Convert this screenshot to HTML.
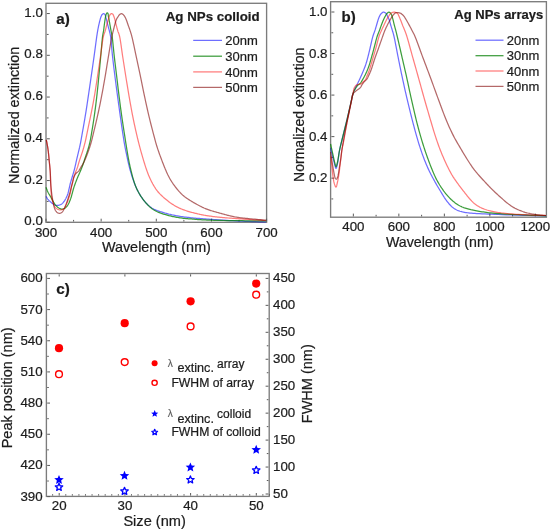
<!DOCTYPE html>
<html><head><meta charset="utf-8"><title>Ag NPs extinction</title>
<style>
html,body{margin:0;padding:0;background:#fff;}
body{width:550px;height:530px;overflow:hidden;}
svg{display:block;will-change:transform;filter:blur(0.3px);}
svg text{font-family:"Liberation Sans", sans-serif;fill:#1c1c1c;stroke:#1c1c1c;stroke-width:0.22px;}
</style></head>
<body>
<svg width="550" height="530" viewBox="0 0 550 530">
<rect width="550" height="530" fill="#fff"/>
<rect x="46.00" y="3.30" width="220.60" height="219.00" fill="none" stroke="#7c7c7c" stroke-width="1.35"/>
<line x1="46.00" y1="221.50" x2="46.00" y2="218.70" stroke="#5a5a5a" stroke-width="1.00"/>
<text x="46.00" y="236.60" font-size="13.30" text-anchor="middle" font-weight="normal">300</text>
<line x1="101.15" y1="221.50" x2="101.15" y2="218.70" stroke="#5a5a5a" stroke-width="1.00"/>
<text x="101.15" y="236.60" font-size="13.30" text-anchor="middle" font-weight="normal">400</text>
<line x1="156.30" y1="221.50" x2="156.30" y2="218.70" stroke="#5a5a5a" stroke-width="1.00"/>
<text x="156.30" y="236.60" font-size="13.30" text-anchor="middle" font-weight="normal">500</text>
<line x1="211.45" y1="221.50" x2="211.45" y2="218.70" stroke="#5a5a5a" stroke-width="1.00"/>
<text x="211.45" y="236.60" font-size="13.30" text-anchor="middle" font-weight="normal">600</text>
<line x1="266.60" y1="221.50" x2="266.60" y2="218.70" stroke="#5a5a5a" stroke-width="1.00"/>
<text x="266.60" y="236.60" font-size="13.30" text-anchor="middle" font-weight="normal">700</text>
<line x1="73.58" y1="221.50" x2="73.58" y2="219.90" stroke="#5a5a5a" stroke-width="1.00"/>
<line x1="128.72" y1="221.50" x2="128.72" y2="219.90" stroke="#5a5a5a" stroke-width="1.00"/>
<line x1="183.88" y1="221.50" x2="183.88" y2="219.90" stroke="#5a5a5a" stroke-width="1.00"/>
<line x1="239.03" y1="221.50" x2="239.03" y2="219.90" stroke="#5a5a5a" stroke-width="1.00"/>
<line x1="46.80" y1="222.30" x2="49.80" y2="222.30" stroke="#5a5a5a" stroke-width="1.00"/>
<text x="42.80" y="225.30" font-size="13.30" text-anchor="end" font-weight="normal">0.0</text>
<line x1="46.80" y1="201.43" x2="48.60" y2="201.43" stroke="#5a5a5a" stroke-width="1.00"/>
<line x1="46.80" y1="180.55" x2="49.80" y2="180.55" stroke="#5a5a5a" stroke-width="1.00"/>
<text x="42.80" y="183.55" font-size="13.30" text-anchor="end" font-weight="normal">0.2</text>
<line x1="46.80" y1="159.68" x2="48.60" y2="159.68" stroke="#5a5a5a" stroke-width="1.00"/>
<line x1="46.80" y1="138.80" x2="49.80" y2="138.80" stroke="#5a5a5a" stroke-width="1.00"/>
<text x="42.80" y="141.80" font-size="13.30" text-anchor="end" font-weight="normal">0.4</text>
<line x1="46.80" y1="117.93" x2="48.60" y2="117.93" stroke="#5a5a5a" stroke-width="1.00"/>
<line x1="46.80" y1="97.05" x2="49.80" y2="97.05" stroke="#5a5a5a" stroke-width="1.00"/>
<text x="42.80" y="100.05" font-size="13.30" text-anchor="end" font-weight="normal">0.6</text>
<line x1="46.80" y1="76.18" x2="48.60" y2="76.18" stroke="#5a5a5a" stroke-width="1.00"/>
<line x1="46.80" y1="55.30" x2="49.80" y2="55.30" stroke="#5a5a5a" stroke-width="1.00"/>
<text x="42.80" y="58.30" font-size="13.30" text-anchor="end" font-weight="normal">0.8</text>
<line x1="46.80" y1="34.43" x2="48.60" y2="34.43" stroke="#5a5a5a" stroke-width="1.00"/>
<line x1="46.80" y1="13.55" x2="49.80" y2="13.55" stroke="#5a5a5a" stroke-width="1.00"/>
<text x="42.80" y="16.55" font-size="13.30" text-anchor="end" font-weight="normal">1.0</text>
<text x="156.40" y="252.20" font-size="14.40" text-anchor="middle" font-weight="normal">Wavelength (nm)</text>
<text transform="translate(18.6,183.9) rotate(-90)" font-size="14.35">Normalized extinction</text>
<text x="56.30" y="23.60" font-size="15.20" text-anchor="start" font-weight="bold">a)</text>
<text x="259.60" y="21.20" font-size="13.30" text-anchor="end" font-weight="bold">Ag NPs colloid</text>
<line x1="193.20" y1="40.40" x2="222.00" y2="40.40" stroke="#6e6eff" stroke-width="1.25"/>
<line x1="193.20" y1="56.20" x2="222.00" y2="56.20" stroke="#3c9c3c" stroke-width="1.25"/>
<line x1="193.20" y1="71.90" x2="222.00" y2="71.90" stroke="#ff7c7c" stroke-width="1.25"/>
<line x1="193.20" y1="87.40" x2="222.00" y2="87.40" stroke="#b46868" stroke-width="1.25"/>
<text x="225.20" y="45.00" font-size="13.00" text-anchor="start" font-weight="normal">20nm</text>
<text x="225.20" y="60.80" font-size="13.00" text-anchor="start" font-weight="normal">30nm</text>
<text x="225.20" y="76.50" font-size="13.00" text-anchor="start" font-weight="normal">40nm</text>
<text x="225.20" y="92.00" font-size="13.00" text-anchor="start" font-weight="normal">50nm</text>
<g fill="none" stroke-width="1.25" stroke-linejoin="round">
<path d="M46.00,196.30 L46.22,196.65 L46.43,197.00 L46.64,197.36 L46.85,197.71 L47.07,198.06 L47.30,198.41 L47.54,198.76 L47.80,199.10 L48.12,199.48 L48.46,199.85 L48.81,200.23 L49.18,200.60 L49.56,200.96 L49.95,201.32 L50.33,201.67 L50.70,202.00 L51.04,202.30 L51.39,202.61 L51.73,202.90 L52.08,203.19 L52.43,203.46 L52.78,203.73 L53.14,203.97 L53.50,204.20 L53.84,204.40 L54.18,204.59 L54.53,204.78 L54.88,204.95 L55.23,205.10 L55.58,205.23 L55.94,205.33 L56.30,205.40 L56.66,205.44 L57.02,205.45 L57.38,205.44 L57.75,205.41 L58.12,205.35 L58.48,205.28 L58.85,205.20 L59.20,205.10 L59.56,204.99 L59.92,204.86 L60.28,204.72 L60.64,204.55 L60.99,204.37 L61.33,204.17 L61.67,203.95 L62.00,203.70 L62.38,203.37 L62.75,203.01 L63.11,202.62 L63.46,202.19 L63.81,201.75 L64.14,201.28 L64.47,200.80 L64.80,200.30 L65.19,199.67 L65.58,199.00 L65.96,198.29 L66.33,197.55 L66.68,196.81 L67.02,196.06 L67.32,195.32 L67.60,194.60 L67.82,193.96 L68.01,193.33 L68.17,192.70 L68.32,192.07 L68.47,191.44 L68.60,190.80 L68.75,190.16 L68.90,189.50 L69.07,188.78 L69.24,188.04 L69.41,187.30 L69.58,186.54 L69.75,185.79 L69.92,185.03 L70.11,184.26 L70.30,183.50 L70.52,182.69 L70.75,181.88 L70.98,181.06 L71.23,180.24 L71.47,179.42 L71.72,178.60 L71.96,177.79 L72.20,177.00 L72.42,176.27 L72.64,175.55 L72.86,174.83 L73.07,174.13 L73.29,173.42 L73.50,172.72 L73.70,172.01 L73.90,171.30 L74.09,170.60 L74.27,169.91 L74.45,169.22 L74.62,168.53 L74.79,167.83 L74.96,167.13 L75.13,166.42 L75.30,165.70 L75.48,164.91 L75.67,164.11 L75.84,163.30 L76.02,162.48 L76.20,161.65 L76.39,160.83 L76.57,160.00 L76.76,159.18 L76.95,158.34 L77.15,157.50 L77.36,156.66 L77.56,155.82 L77.76,154.98 L77.97,154.14 L78.17,153.31 L78.36,152.48 L78.55,151.71 L78.73,150.93 L78.92,150.17 L79.10,149.41 L79.28,148.65 L79.45,147.89 L79.63,147.13 L79.79,146.38 L79.95,145.65 L80.10,144.94 L80.25,144.22 L80.39,143.51 L80.53,142.79 L80.67,142.07 L80.81,141.34 L80.95,140.60 L81.10,139.82 L81.24,139.04 L81.38,138.25 L81.52,137.46 L81.66,136.65 L81.80,135.83 L81.95,134.99 L82.10,134.12 L82.29,133.05 L82.49,131.96 L82.69,130.85 L82.90,129.71 L83.10,128.54 L83.32,127.35 L83.53,126.13 L83.75,124.88 L84.02,123.32 L84.30,121.71 L84.58,120.06 L84.86,118.37 L85.15,116.65 L85.44,114.91 L85.73,113.15 L86.02,111.37 L86.33,109.39 L86.64,107.38 L86.95,105.34 L87.26,103.27 L87.57,101.18 L87.88,99.07 L88.20,96.95 L88.51,94.81 L88.85,92.51 L89.20,90.18 L89.55,87.83 L89.89,85.46 L90.24,83.07 L90.59,80.68 L90.94,78.28 L91.29,75.88 L91.64,73.43 L92.00,70.96 L92.35,68.48 L92.71,66.00 L93.06,63.51 L93.41,61.03 L93.76,58.54 L94.11,56.06 L94.46,53.49 L94.82,50.81 L95.19,48.08 L95.55,45.37 L95.89,42.76 L96.22,40.31 L96.53,38.10 L96.80,36.20 L96.93,35.33 L97.05,34.56 L97.16,33.85 L97.26,33.18 L97.36,32.55 L97.47,31.92 L97.58,31.28 L97.70,30.60 L97.83,29.90 L97.95,29.20 L98.09,28.50 L98.22,27.80 L98.36,27.10 L98.50,26.40 L98.65,25.70 L98.80,25.00 L98.96,24.27 L99.13,23.53 L99.31,22.77 L99.49,22.02 L99.67,21.29 L99.85,20.58 L100.03,19.91 L100.20,19.30 L100.31,18.90 L100.42,18.51 L100.53,18.15 L100.63,17.80 L100.74,17.46 L100.85,17.14 L100.97,16.82 L101.10,16.50 L101.22,16.22 L101.34,15.94 L101.46,15.67 L101.59,15.40 L101.73,15.15 L101.88,14.91 L102.03,14.69 L102.20,14.50 L102.35,14.35 L102.52,14.21 L102.70,14.07 L102.88,13.95 L103.06,13.85 L103.24,13.77 L103.42,13.72 L103.60,13.70 L103.77,13.71 L103.94,13.75 L104.12,13.82 L104.29,13.90 L104.46,14.01 L104.62,14.13 L104.77,14.26 L104.90,14.40 L105.03,14.59 L105.14,14.82 L105.23,15.07 L105.31,15.34 L105.38,15.63 L105.45,15.92 L105.52,16.21 L105.60,16.50 L105.70,16.82 L105.80,17.15 L105.89,17.48 L105.99,17.81 L106.09,18.16 L106.19,18.52 L106.29,18.90 L106.40,19.30 L106.56,19.92 L106.73,20.58 L106.90,21.29 L107.07,22.03 L107.25,22.78 L107.44,23.53 L107.62,24.28 L107.80,25.00 L107.98,25.70 L108.17,26.41 L108.37,27.11 L108.56,27.81 L108.75,28.51 L108.94,29.21 L109.12,29.90 L109.30,30.60 L109.46,31.25 L109.62,31.87 L109.77,32.48 L109.92,33.09 L110.07,33.72 L110.21,34.41 L110.36,35.16 L110.50,36.00 L110.76,37.89 L111.01,40.11 L111.25,42.57 L111.49,45.21 L111.73,47.94 L111.97,50.70 L112.22,53.41 L112.49,56.00 L112.77,58.50 L113.06,61.00 L113.35,63.50 L113.65,66.00 L113.96,68.50 L114.27,71.00 L114.59,73.50 L114.90,76.00 L115.22,78.51 L115.55,81.02 L115.87,83.54 L116.21,86.05 L116.54,88.56 L116.87,91.08 L117.21,93.60 L117.55,96.12 L117.89,98.68 L118.24,101.26 L118.59,103.84 L118.95,106.42 L119.30,109.00 L119.65,111.56 L120.01,114.09 L120.36,116.59 L120.69,118.96 L121.03,121.35 L121.37,123.74 L121.71,126.11 L122.05,128.42 L122.38,130.67 L122.70,132.81 L123.01,134.84 L123.23,136.28 L123.45,137.67 L123.66,139.02 L123.87,140.32 L124.07,141.58 L124.28,142.80 L124.48,143.97 L124.68,145.11 L124.84,145.97 L124.99,146.78 L125.14,147.57 L125.30,148.34 L125.45,149.09 L125.60,149.83 L125.75,150.57 L125.90,151.32 L126.05,152.04 L126.20,152.76 L126.34,153.46 L126.49,154.17 L126.64,154.87 L126.78,155.57 L126.93,156.27 L127.08,156.98 L127.23,157.68 L127.38,158.39 L127.52,159.10 L127.67,159.80 L127.82,160.51 L127.97,161.21 L128.13,161.92 L128.29,162.63 L128.45,163.34 L128.62,164.05 L128.79,164.76 L128.96,165.47 L129.13,166.18 L129.31,166.89 L129.49,167.60 L129.68,168.31 L129.87,169.03 L130.07,169.75 L130.27,170.47 L130.47,171.19 L130.68,171.91 L130.89,172.64 L131.10,173.36 L131.32,174.08 L131.55,174.81 L131.78,175.54 L132.01,176.27 L132.24,177.00 L132.48,177.74 L132.73,178.47 L132.98,179.19 L133.23,179.92 L133.48,180.64 L133.74,181.37 L133.99,182.09 L134.26,182.81 L134.52,183.52 L134.80,184.24 L135.08,184.95 L135.37,185.66 L135.67,186.38 L135.98,187.09 L136.29,187.80 L136.61,188.51 L136.94,189.22 L137.28,189.92 L137.63,190.62 L137.99,191.32 L138.38,192.04 L138.77,192.75 L139.17,193.47 L139.59,194.18 L140.01,194.88 L140.45,195.59 L140.90,196.29 L141.36,196.98 L141.85,197.69 L142.35,198.40 L142.86,199.11 L143.39,199.81 L143.92,200.50 L144.47,201.19 L145.03,201.85 L145.61,202.50 L146.19,203.13 L146.78,203.75 L147.39,204.37 L148.01,204.97 L148.64,205.55 L149.28,206.11 L149.92,206.64 L150.56,207.13 L151.15,207.54 L151.74,207.93 L152.34,208.29 L152.95,208.63 L153.56,208.96 L154.18,209.27 L154.80,209.56 L155.43,209.85 L156.07,210.13 L156.72,210.39 L157.38,210.64 L158.04,210.87 L158.71,211.09 L159.38,211.31 L160.05,211.53 L160.73,211.75 L161.42,211.97 L162.12,212.19 L162.82,212.41 L163.52,212.62 L164.23,212.83 L164.95,213.04 L165.67,213.24 L166.40,213.44 L167.17,213.65 L167.94,213.85 L168.72,214.06 L169.50,214.25 L170.30,214.45 L171.10,214.64 L171.93,214.83 L172.77,215.01 L173.74,215.22 L174.73,215.42 L175.74,215.61 L176.77,215.80 L177.81,215.98 L178.87,216.16 L179.94,216.34 L181.02,216.50 L182.25,216.68 L183.50,216.86 L184.77,217.02 L186.06,217.18 L187.36,217.33 L188.67,217.48 L189.98,217.62 L191.28,217.76 L192.61,217.89 L193.94,218.02 L195.26,218.14 L196.59,218.26 L197.94,218.37 L199.30,218.48 L200.69,218.59 L202.10,218.70 L203.72,218.83 L205.34,218.95 L206.98,219.07 L208.65,219.19 L210.36,219.31 L212.12,219.43 L213.94,219.55 L215.83,219.68 L218.39,219.85 L221.07,220.02 L223.87,220.20 L226.74,220.38 L229.67,220.56 L232.65,220.73 L235.64,220.89 L238.63,221.04 L241.93,221.19 L245.30,221.32 L248.71,221.44 L252.16,221.55 L255.63,221.66 L259.10,221.77 L262.56,221.88 L266.00,222.00" stroke="#0000ff" stroke-opacity="0.57"/>
<path d="M46.00,187.30 L46.22,187.86 L46.43,188.42 L46.64,188.98 L46.85,189.54 L47.07,190.10 L47.29,190.67 L47.54,191.23 L47.80,191.80 L48.12,192.43 L48.46,193.06 L48.82,193.70 L49.20,194.34 L49.58,194.98 L49.96,195.62 L50.34,196.26 L50.70,196.90 L51.05,197.54 L51.40,198.19 L51.74,198.85 L52.09,199.50 L52.43,200.15 L52.78,200.78 L53.14,201.40 L53.50,202.00 L53.83,202.53 L54.17,203.06 L54.51,203.57 L54.85,204.08 L55.20,204.57 L55.56,205.04 L55.92,205.48 L56.30,205.90 L56.64,206.25 L56.99,206.58 L57.35,206.90 L57.71,207.20 L58.08,207.48 L58.45,207.75 L58.82,207.98 L59.20,208.20 L59.54,208.38 L59.89,208.54 L60.24,208.70 L60.59,208.83 L60.94,208.94 L61.30,209.03 L61.65,209.08 L62.00,209.10 L62.35,209.08 L62.71,209.03 L63.07,208.96 L63.42,208.85 L63.78,208.72 L64.13,208.57 L64.47,208.39 L64.80,208.20 L65.18,207.95 L65.55,207.67 L65.91,207.36 L66.26,207.02 L66.61,206.66 L66.95,206.26 L67.28,205.84 L67.60,205.40 L68.01,204.75 L68.42,204.03 L68.80,203.24 L69.18,202.42 L69.53,201.58 L69.87,200.73 L70.20,199.90 L70.50,199.10 L70.76,198.39 L71.00,197.68 L71.22,196.98 L71.42,196.28 L71.62,195.58 L71.81,194.88 L72.01,194.19 L72.20,193.50 L72.38,192.84 L72.55,192.19 L72.72,191.55 L72.88,190.90 L73.05,190.26 L73.22,189.61 L73.40,188.96 L73.60,188.30 L73.82,187.60 L74.06,186.89 L74.30,186.17 L74.55,185.46 L74.81,184.74 L75.07,184.02 L75.34,183.31 L75.60,182.60 L75.86,181.90 L76.13,181.19 L76.40,180.49 L76.67,179.79 L76.95,179.09 L77.23,178.39 L77.51,177.70 L77.80,177.00 L78.10,176.30 L78.41,175.59 L78.72,174.89 L79.04,174.19 L79.35,173.49 L79.67,172.80 L79.97,172.11 L80.26,171.43 L80.53,170.80 L80.79,170.17 L81.05,169.55 L81.31,168.93 L81.56,168.32 L81.80,167.72 L82.03,167.12 L82.26,166.53 L82.45,166.00 L82.63,165.49 L82.81,164.99 L82.98,164.49 L83.14,163.99 L83.31,163.49 L83.48,162.97 L83.66,162.45 L83.85,161.86 L84.05,161.26 L84.24,160.65 L84.44,160.03 L84.64,159.41 L84.84,158.79 L85.05,158.16 L85.26,157.52 L85.49,156.85 L85.73,156.16 L85.97,155.47 L86.21,154.78 L86.45,154.08 L86.69,153.38 L86.93,152.68 L87.16,151.98 L87.39,151.28 L87.61,150.57 L87.84,149.87 L88.05,149.16 L88.27,148.45 L88.48,147.74 L88.68,147.03 L88.88,146.32 L89.07,145.61 L89.25,144.91 L89.43,144.20 L89.60,143.49 L89.76,142.78 L89.92,142.06 L90.08,141.34 L90.24,140.60 L90.40,139.82 L90.55,139.04 L90.69,138.25 L90.83,137.46 L90.97,136.65 L91.11,135.83 L91.26,134.99 L91.41,134.12 L91.59,133.05 L91.78,131.96 L91.97,130.85 L92.16,129.71 L92.35,128.54 L92.55,127.35 L92.75,126.13 L92.94,124.88 L93.19,123.32 L93.43,121.72 L93.69,120.06 L93.94,118.37 L94.19,116.65 L94.44,114.91 L94.69,113.15 L94.93,111.37 L95.20,109.39 L95.46,107.38 L95.72,105.34 L95.97,103.27 L96.23,101.18 L96.47,99.07 L96.72,96.95 L96.96,94.81 L97.22,92.51 L97.46,90.18 L97.71,87.83 L97.95,85.46 L98.19,83.07 L98.42,80.68 L98.66,78.28 L98.89,75.88 L99.13,73.43 L99.37,70.96 L99.61,68.48 L99.84,66.00 L100.08,63.51 L100.31,61.03 L100.54,58.54 L100.77,56.06 L101.00,53.49 L101.23,50.81 L101.46,48.08 L101.69,45.37 L101.91,42.75 L102.14,40.31 L102.37,38.10 L102.60,36.20 L102.73,35.33 L102.86,34.56 L102.99,33.85 L103.12,33.18 L103.25,32.55 L103.37,31.92 L103.49,31.28 L103.60,30.60 L103.70,29.90 L103.79,29.20 L103.88,28.50 L103.96,27.80 L104.04,27.10 L104.13,26.40 L104.21,25.70 L104.30,25.00 L104.40,24.28 L104.50,23.53 L104.60,22.78 L104.70,22.03 L104.80,21.29 L104.91,20.58 L105.00,19.92 L105.10,19.30 L105.16,18.90 L105.22,18.53 L105.28,18.17 L105.34,17.83 L105.40,17.49 L105.46,17.16 L105.53,16.83 L105.60,16.50 L105.67,16.17 L105.75,15.84 L105.82,15.50 L105.90,15.17 L105.99,14.85 L106.08,14.55 L106.18,14.26 L106.30,14.00 L106.40,13.81 L106.50,13.60 L106.61,13.41 L106.73,13.22 L106.85,13.06 L106.97,12.93 L107.08,12.84 L107.20,12.80 L107.30,12.81 L107.41,12.86 L107.52,12.94 L107.63,13.04 L107.73,13.17 L107.83,13.31 L107.92,13.45 L108.00,13.60 L108.10,13.87 L108.17,14.19 L108.22,14.54 L108.26,14.93 L108.28,15.33 L108.31,15.73 L108.35,16.13 L108.40,16.50 L108.46,16.85 L108.53,17.18 L108.61,17.51 L108.68,17.84 L108.76,18.18 L108.84,18.53 L108.92,18.90 L109.00,19.30 L109.12,19.92 L109.24,20.58 L109.36,21.29 L109.49,22.03 L109.62,22.78 L109.75,23.53 L109.87,24.28 L110.00,25.00 L110.12,25.70 L110.25,26.40 L110.37,27.10 L110.49,27.80 L110.62,28.50 L110.74,29.20 L110.87,29.90 L111.00,30.60 L111.13,31.29 L111.27,31.94 L111.40,32.58 L111.54,33.23 L111.68,33.90 L111.82,34.63 L111.96,35.42 L112.10,36.30 L112.36,38.20 L112.62,40.40 L112.88,42.84 L113.15,45.44 L113.41,48.14 L113.68,50.86 L113.96,53.53 L114.24,56.09 L114.53,58.57 L114.82,61.06 L115.12,63.55 L115.42,66.04 L115.73,68.53 L116.03,71.02 L116.34,73.51 L116.64,76.01 L116.94,78.52 L117.24,81.03 L117.54,83.53 L117.83,86.04 L118.13,88.56 L118.44,91.07 L118.75,93.60 L119.06,96.12 L119.39,98.69 L119.72,101.28 L120.06,103.87 L120.41,106.46 L120.75,109.05 L121.11,111.64 L121.46,114.21 L121.82,116.77 L122.19,119.27 L122.56,121.80 L122.94,124.32 L123.32,126.84 L123.70,129.33 L124.08,131.77 L124.45,134.15 L124.81,136.46 L125.11,138.37 L125.40,140.24 L125.68,142.08 L125.97,143.88 L126.25,145.65 L126.53,147.38 L126.80,149.08 L127.08,150.74 L127.31,152.13 L127.54,153.49 L127.77,154.82 L127.99,156.13 L128.22,157.41 L128.45,158.68 L128.69,159.93 L128.93,161.17 L129.15,162.27 L129.38,163.36 L129.61,164.42 L129.84,165.47 L130.07,166.52 L130.32,167.56 L130.56,168.62 L130.81,169.68 L131.08,170.78 L131.34,171.89 L131.61,173.00 L131.89,174.12 L132.17,175.23 L132.46,176.33 L132.75,177.40 L133.05,178.45 L133.32,179.37 L133.59,180.29 L133.87,181.19 L134.15,182.07 L134.44,182.95 L134.73,183.81 L135.03,184.65 L135.35,185.49 L135.65,186.25 L135.96,187.00 L136.28,187.74 L136.60,188.47 L136.93,189.18 L137.27,189.90 L137.63,190.61 L137.99,191.32 L138.38,192.04 L138.77,192.76 L139.17,193.47 L139.59,194.18 L140.01,194.89 L140.45,195.59 L140.90,196.29 L141.36,196.98 L141.85,197.70 L142.35,198.42 L142.86,199.13 L143.39,199.84 L143.93,200.54 L144.48,201.23 L145.04,201.91 L145.61,202.58 L146.19,203.24 L146.79,203.89 L147.40,204.54 L148.02,205.18 L148.65,205.80 L149.28,206.40 L149.92,206.98 L150.56,207.52 L151.15,208.00 L151.75,208.45 L152.34,208.89 L152.95,209.31 L153.56,209.71 L154.17,210.09 L154.80,210.46 L155.43,210.82 L156.07,211.16 L156.71,211.47 L157.37,211.77 L158.03,212.06 L158.70,212.33 L159.37,212.60 L160.05,212.86 L160.73,213.11 L161.42,213.37 L162.11,213.61 L162.81,213.85 L163.52,214.07 L164.23,214.29 L164.94,214.51 L165.67,214.72 L166.40,214.93 L167.17,215.15 L167.94,215.36 L168.72,215.56 L169.50,215.77 L170.30,215.96 L171.10,216.15 L171.93,216.34 L172.77,216.52 L173.74,216.72 L174.73,216.92 L175.74,217.11 L176.77,217.29 L177.81,217.47 L178.87,217.63 L179.94,217.80 L181.02,217.95 L182.25,218.11 L183.50,218.26 L184.77,218.39 L186.06,218.52 L187.36,218.64 L188.67,218.76 L189.98,218.88 L191.28,218.99 L192.61,219.10 L193.94,219.21 L195.26,219.32 L196.59,219.42 L197.94,219.52 L199.30,219.61 L200.69,219.70 L202.10,219.78 L203.72,219.87 L205.34,219.95 L206.98,220.02 L208.65,220.09 L210.36,220.16 L212.12,220.22 L213.94,220.28 L215.83,220.33 L218.39,220.39 L221.08,220.45 L223.87,220.50 L226.74,220.54 L229.67,220.58 L232.65,220.62 L235.64,220.65 L238.63,220.69 L241.93,220.74 L245.30,220.78 L248.71,220.82 L252.16,220.85 L255.63,220.89 L259.10,220.93 L262.56,220.96 L266.00,221.00" stroke="#008000" stroke-opacity="0.76"/>
<path d="M46.30,139.90 L46.44,140.60 L46.58,141.29 L46.73,141.97 L46.87,142.66 L47.01,143.36 L47.15,144.06 L47.28,144.77 L47.41,145.49 L47.54,146.27 L47.66,147.06 L47.79,147.86 L47.90,148.67 L48.02,149.48 L48.13,150.32 L48.24,151.16 L48.35,152.03 L48.46,153.06 L48.58,154.11 L48.68,155.18 L48.79,156.27 L48.89,157.37 L49.00,158.49 L49.10,159.63 L49.21,160.77 L49.33,162.03 L49.46,163.30 L49.60,164.58 L49.73,165.88 L49.86,167.20 L49.98,168.54 L50.10,169.91 L50.20,171.30 L50.30,172.93 L50.39,174.63 L50.46,176.36 L50.52,178.12 L50.59,179.88 L50.65,181.63 L50.72,183.34 L50.80,185.00 L50.87,186.49 L50.93,187.99 L50.99,189.49 L51.05,190.96 L51.13,192.40 L51.22,193.78 L51.34,195.08 L51.50,196.30 L51.64,197.12 L51.79,197.89 L51.95,198.62 L52.12,199.33 L52.31,200.01 L52.50,200.68 L52.70,201.34 L52.90,202.00 L53.08,202.61 L53.27,203.21 L53.45,203.82 L53.65,204.41 L53.86,204.98 L54.08,205.52 L54.33,206.03 L54.60,206.50 L54.84,206.86 L55.10,207.19 L55.38,207.51 L55.66,207.80 L55.96,208.08 L56.26,208.34 L56.58,208.58 L56.90,208.80 L57.22,209.00 L57.56,209.19 L57.92,209.36 L58.28,209.51 L58.64,209.65 L59.00,209.76 L59.36,209.84 L59.70,209.90 L60.00,209.93 L60.29,209.93 L60.58,209.92 L60.87,209.89 L61.16,209.84 L61.44,209.77 L61.72,209.69 L62.00,209.60 L62.29,209.49 L62.58,209.36 L62.86,209.22 L63.14,209.06 L63.42,208.87 L63.68,208.67 L63.95,208.45 L64.20,208.20 L64.52,207.82 L64.83,207.40 L65.13,206.93 L65.42,206.42 L65.69,205.89 L65.97,205.33 L66.23,204.77 L66.50,204.20 L66.81,203.50 L67.12,202.75 L67.42,201.98 L67.71,201.18 L68.00,200.37 L68.27,199.57 L68.54,198.77 L68.80,198.00 L69.04,197.29 L69.28,196.57 L69.51,195.86 L69.74,195.15 L69.95,194.45 L70.15,193.75 L70.34,193.07 L70.50,192.40 L70.62,191.83 L70.72,191.28 L70.80,190.73 L70.87,190.20 L70.94,189.66 L71.01,189.12 L71.10,188.57 L71.20,188.00 L71.34,187.35 L71.48,186.69 L71.64,186.02 L71.81,185.34 L71.98,184.65 L72.16,183.97 L72.33,183.28 L72.50,182.60 L72.67,181.90 L72.84,181.20 L73.00,180.49 L73.17,179.78 L73.34,179.08 L73.52,178.38 L73.71,177.68 L73.90,177.00 L74.09,176.36 L74.30,175.71 L74.51,175.08 L74.72,174.45 L74.94,173.82 L75.16,173.21 L75.38,172.60 L75.60,172.00 L75.81,171.46 L76.02,170.94 L76.23,170.44 L76.45,169.93 L76.67,169.43 L76.88,168.91 L77.09,168.37 L77.30,167.80 L77.54,167.07 L77.79,166.29 L78.02,165.48 L78.26,164.65 L78.49,163.82 L78.72,163.01 L78.95,162.21 L79.18,161.46 L79.38,160.85 L79.58,160.26 L79.77,159.68 L79.96,159.11 L80.15,158.55 L80.35,157.99 L80.54,157.42 L80.74,156.84 L80.95,156.23 L81.16,155.62 L81.37,155.00 L81.58,154.39 L81.79,153.77 L82.00,153.14 L82.21,152.51 L82.41,151.88 L82.62,151.20 L82.83,150.51 L83.04,149.82 L83.25,149.13 L83.45,148.43 L83.66,147.73 L83.85,147.02 L84.05,146.32 L84.24,145.62 L84.43,144.91 L84.61,144.20 L84.79,143.49 L84.97,142.78 L85.15,142.06 L85.32,141.34 L85.49,140.60 L85.67,139.82 L85.84,139.04 L86.01,138.25 L86.18,137.46 L86.34,136.65 L86.51,135.83 L86.68,134.99 L86.86,134.12 L87.08,133.05 L87.30,131.96 L87.53,130.85 L87.76,129.71 L88.00,128.54 L88.24,127.35 L88.49,126.13 L88.75,124.88 L89.08,123.32 L89.42,121.71 L89.77,120.06 L90.12,118.37 L90.49,116.65 L90.85,114.91 L91.21,113.15 L91.57,111.37 L91.95,109.39 L92.34,107.38 L92.73,105.34 L93.12,103.27 L93.51,101.18 L93.89,99.08 L94.26,96.95 L94.63,94.81 L95.02,92.51 L95.40,90.18 L95.77,87.83 L96.14,85.46 L96.51,83.07 L96.87,80.68 L97.23,78.28 L97.60,75.88 L97.97,73.42 L98.34,70.94 L98.70,68.46 L99.07,65.97 L99.43,63.48 L99.80,60.99 L100.16,58.49 L100.53,56.00 L100.90,53.42 L101.26,50.70 L101.62,47.94 L101.98,45.20 L102.34,42.56 L102.72,40.10 L103.10,37.89 L103.50,36.00 L103.72,35.15 L103.95,34.40 L104.18,33.72 L104.42,33.08 L104.65,32.48 L104.88,31.88 L105.09,31.26 L105.30,30.60 L105.49,29.91 L105.67,29.21 L105.84,28.51 L106.01,27.81 L106.17,27.11 L106.34,26.40 L106.51,25.70 L106.70,25.00 L106.90,24.27 L107.12,23.53 L107.34,22.77 L107.56,22.02 L107.79,21.29 L108.00,20.58 L108.21,19.92 L108.40,19.30 L108.52,18.90 L108.64,18.52 L108.75,18.16 L108.85,17.81 L108.96,17.48 L109.07,17.15 L109.18,16.82 L109.30,16.50 L109.41,16.20 L109.52,15.89 L109.63,15.58 L109.75,15.28 L109.87,14.99 L110.00,14.73 L110.14,14.50 L110.30,14.30 L110.43,14.18 L110.57,14.06 L110.72,13.96 L110.87,13.88 L111.03,13.81 L111.19,13.75 L111.34,13.72 L111.50,13.70 L111.66,13.70 L111.83,13.72 L112.00,13.76 L112.17,13.82 L112.34,13.89 L112.50,13.98 L112.66,14.08 L112.80,14.20 L112.98,14.40 L113.13,14.64 L113.28,14.91 L113.41,15.21 L113.54,15.53 L113.66,15.86 L113.78,16.19 L113.90,16.50 L114.03,16.83 L114.14,17.15 L114.26,17.48 L114.36,17.81 L114.47,18.16 L114.58,18.52 L114.69,18.90 L114.80,19.30 L114.97,19.92 L115.14,20.58 L115.31,21.29 L115.48,22.03 L115.66,22.78 L115.84,23.53 L116.02,24.28 L116.20,25.00 L116.38,25.70 L116.56,26.41 L116.74,27.11 L116.92,27.81 L117.11,28.51 L117.30,29.21 L117.50,29.91 L117.70,30.60 L117.91,31.26 L118.13,31.88 L118.36,32.48 L118.59,33.08 L118.82,33.72 L119.05,34.40 L119.28,35.15 L119.50,36.00 L119.91,37.89 L120.30,40.10 L120.69,42.56 L121.07,45.20 L121.45,47.94 L121.83,50.70 L122.22,53.41 L122.60,56.00 L122.99,58.50 L123.38,61.00 L123.77,63.50 L124.16,66.01 L124.55,68.51 L124.95,71.01 L125.34,73.50 L125.74,76.00 L126.14,78.49 L126.54,80.98 L126.94,83.47 L127.35,85.96 L127.76,88.44 L128.17,90.92 L128.58,93.37 L129.00,95.82 L129.41,98.17 L129.82,100.52 L130.23,102.86 L130.65,105.19 L131.07,107.51 L131.50,109.80 L131.92,112.06 L132.35,114.30 L132.76,116.34 L133.16,118.35 L133.56,120.35 L133.97,122.32 L134.38,124.28 L134.80,126.22 L135.22,128.17 L135.65,130.11 L136.08,131.98 L136.51,133.85 L136.94,135.72 L137.39,137.57 L137.83,139.41 L138.29,141.25 L138.75,143.07 L139.21,144.88 L139.67,146.62 L140.13,148.36 L140.60,150.10 L141.08,151.82 L141.56,153.52 L142.03,155.20 L142.51,156.84 L142.98,158.44 L143.39,159.82 L143.79,161.17 L144.20,162.50 L144.61,163.81 L145.01,165.09 L145.42,166.35 L145.82,167.57 L146.22,168.76 L146.56,169.74 L146.89,170.69 L147.22,171.62 L147.56,172.52 L147.89,173.41 L148.23,174.29 L148.57,175.15 L148.93,176.01 L149.26,176.79 L149.59,177.55 L149.93,178.30 L150.28,179.04 L150.63,179.77 L150.98,180.49 L151.34,181.21 L151.71,181.93 L152.07,182.62 L152.44,183.30 L152.81,183.99 L153.19,184.66 L153.57,185.33 L153.96,185.99 L154.35,186.64 L154.75,187.27 L155.13,187.86 L155.51,188.44 L155.89,189.02 L156.28,189.58 L156.68,190.13 L157.08,190.68 L157.50,191.22 L157.92,191.74 L158.34,192.24 L158.77,192.73 L159.20,193.20 L159.64,193.67 L160.10,194.13 L160.56,194.59 L161.03,195.06 L161.52,195.53 L162.09,196.06 L162.67,196.60 L163.27,197.14 L163.88,197.68 L164.50,198.21 L165.14,198.74 L165.77,199.27 L166.41,199.79 L167.08,200.33 L167.76,200.86 L168.45,201.39 L169.14,201.91 L169.84,202.43 L170.55,202.93 L171.26,203.43 L171.97,203.91 L172.66,204.36 L173.36,204.81 L174.05,205.25 L174.76,205.67 L175.46,206.09 L176.18,206.49 L176.90,206.88 L177.63,207.26 L178.37,207.63 L179.12,207.99 L179.87,208.33 L180.63,208.66 L181.40,208.98 L182.18,209.29 L182.96,209.59 L183.75,209.89 L184.59,210.19 L185.44,210.48 L186.31,210.77 L187.18,211.04 L188.05,211.31 L188.92,211.56 L189.78,211.82 L190.63,212.06 L191.43,212.28 L192.22,212.50 L193.01,212.70 L193.79,212.90 L194.57,213.10 L195.35,213.29 L196.12,213.47 L196.89,213.66 L197.63,213.83 L198.36,214.00 L199.09,214.17 L199.81,214.33 L200.54,214.49 L201.27,214.64 L202.02,214.79 L202.78,214.94 L203.61,215.10 L204.45,215.25 L205.29,215.40 L206.15,215.55 L207.02,215.69 L207.90,215.82 L208.80,215.96 L209.73,216.09 L210.82,216.24 L211.95,216.38 L213.10,216.52 L214.27,216.65 L215.45,216.78 L216.65,216.91 L217.85,217.04 L219.05,217.16 L220.33,217.29 L221.62,217.41 L222.91,217.53 L224.21,217.65 L225.53,217.77 L226.87,217.89 L228.24,218.00 L229.64,218.12 L231.27,218.24 L232.92,218.37 L234.60,218.49 L236.31,218.61 L238.06,218.73 L239.86,218.85 L241.71,218.98 L243.63,219.11 L246.18,219.27 L248.86,219.44 L251.64,219.62 L254.49,219.79 L257.38,219.97 L260.29,220.15 L263.17,220.32 L266.00,220.50" stroke="#ff0000" stroke-opacity="0.51"/>
<path d="M46.30,139.90 L46.44,140.60 L46.58,141.29 L46.73,141.97 L46.87,142.66 L47.01,143.36 L47.15,144.06 L47.28,144.77 L47.41,145.49 L47.54,146.27 L47.66,147.06 L47.79,147.86 L47.90,148.67 L48.02,149.48 L48.13,150.32 L48.24,151.16 L48.35,152.03 L48.46,153.06 L48.58,154.11 L48.68,155.18 L48.79,156.27 L48.89,157.37 L49.00,158.49 L49.10,159.63 L49.21,160.77 L49.33,162.03 L49.46,163.30 L49.60,164.58 L49.73,165.88 L49.86,167.20 L49.98,168.54 L50.10,169.91 L50.20,171.30 L50.30,172.93 L50.37,174.63 L50.43,176.36 L50.48,178.12 L50.54,179.88 L50.60,181.63 L50.69,183.34 L50.80,185.00 L50.93,186.48 L51.07,187.95 L51.22,189.41 L51.38,190.85 L51.55,192.26 L51.73,193.65 L51.91,194.99 L52.10,196.30 L52.26,197.37 L52.42,198.41 L52.58,199.43 L52.74,200.43 L52.92,201.40 L53.10,202.36 L53.29,203.29 L53.50,204.20 L53.68,204.98 L53.86,205.75 L54.04,206.52 L54.23,207.26 L54.44,207.98 L54.67,208.67 L54.92,209.31 L55.20,209.90 L55.44,210.33 L55.70,210.76 L55.98,211.16 L56.26,211.53 L56.56,211.88 L56.87,212.19 L57.18,212.47 L57.50,212.70 L57.76,212.85 L58.03,212.99 L58.30,213.10 L58.58,213.19 L58.86,213.25 L59.14,213.30 L59.42,213.31 L59.70,213.30 L59.99,213.26 L60.29,213.18 L60.59,213.08 L60.88,212.95 L61.17,212.79 L61.46,212.62 L61.74,212.42 L62.00,212.20 L62.31,211.89 L62.61,211.53 L62.90,211.14 L63.17,210.71 L63.43,210.25 L63.69,209.78 L63.94,209.29 L64.20,208.80 L64.51,208.17 L64.81,207.51 L65.10,206.81 L65.39,206.09 L65.67,205.35 L65.95,204.60 L66.22,203.85 L66.50,203.10 L66.80,202.29 L67.09,201.46 L67.39,200.62 L67.68,199.78 L67.96,198.92 L68.25,198.06 L68.52,197.18 L68.80,196.30 L69.09,195.34 L69.38,194.34 L69.67,193.33 L69.95,192.32 L70.22,191.30 L70.49,190.31 L70.75,189.33 L71.00,188.40 L71.20,187.63 L71.40,186.89 L71.59,186.16 L71.78,185.44 L71.96,184.73 L72.14,184.02 L72.32,183.31 L72.50,182.60 L72.68,181.88 L72.85,181.12 L73.02,180.36 L73.19,179.61 L73.36,178.88 L73.53,178.19 L73.71,177.56 L73.90,177.00 L74.02,176.69 L74.13,176.42 L74.25,176.16 L74.37,175.92 L74.49,175.69 L74.62,175.47 L74.75,175.24 L74.90,175.00 L75.06,174.74 L75.23,174.48 L75.41,174.23 L75.59,173.97 L75.78,173.72 L75.98,173.47 L76.19,173.23 L76.40,173.00 L76.63,172.78 L76.87,172.58 L77.12,172.39 L77.37,172.21 L77.63,172.01 L77.89,171.80 L78.15,171.57 L78.40,171.30 L78.77,170.83 L79.14,170.29 L79.52,169.70 L79.89,169.07 L80.26,168.42 L80.63,167.78 L80.98,167.17 L81.32,166.60 L81.60,166.14 L81.87,165.70 L82.14,165.27 L82.41,164.84 L82.66,164.42 L82.91,164.00 L83.15,163.58 L83.38,163.17 L83.58,162.78 L83.77,162.41 L83.96,162.03 L84.14,161.66 L84.31,161.28 L84.48,160.91 L84.66,160.52 L84.83,160.13 L85.02,159.72 L85.20,159.31 L85.39,158.89 L85.57,158.47 L85.75,158.04 L85.93,157.61 L86.12,157.16 L86.31,156.70 L86.53,156.14 L86.75,155.56 L86.98,154.97 L87.21,154.36 L87.43,153.75 L87.66,153.13 L87.89,152.50 L88.11,151.88 L88.35,151.20 L88.59,150.52 L88.83,149.83 L89.07,149.13 L89.31,148.43 L89.54,147.73 L89.77,147.03 L89.99,146.32 L90.21,145.62 L90.43,144.91 L90.64,144.20 L90.85,143.50 L91.05,142.78 L91.25,142.06 L91.45,141.34 L91.65,140.60 L91.85,139.82 L92.05,139.04 L92.24,138.25 L92.43,137.46 L92.62,136.65 L92.81,135.83 L93.01,134.99 L93.22,134.12 L93.47,133.05 L93.74,131.96 L94.01,130.85 L94.29,129.71 L94.57,128.54 L94.86,127.35 L95.15,126.13 L95.45,124.88 L95.81,123.33 L96.19,121.73 L96.57,120.09 L96.96,118.41 L97.35,116.70 L97.73,114.97 L98.12,113.24 L98.50,111.50 L98.90,109.61 L99.30,107.69 L99.70,105.76 L100.10,103.80 L100.49,101.84 L100.88,99.86 L101.27,97.88 L101.65,95.91 L102.03,93.89 L102.42,91.86 L102.79,89.82 L103.17,87.77 L103.53,85.73 L103.90,83.68 L104.26,81.64 L104.61,79.61 L104.96,77.59 L105.30,75.57 L105.63,73.55 L105.96,71.54 L106.29,69.53 L106.61,67.54 L106.93,65.56 L107.25,63.62 L107.55,61.83 L107.83,60.06 L108.12,58.31 L108.40,56.58 L108.69,54.85 L108.97,53.13 L109.26,51.41 L109.55,49.69 L109.84,47.97 L110.13,46.19 L110.43,44.40 L110.73,42.62 L111.03,40.89 L111.33,39.24 L111.62,37.70 L111.90,36.30 L112.08,35.47 L112.26,34.70 L112.43,33.98 L112.61,33.29 L112.78,32.63 L112.95,31.96 L113.13,31.29 L113.30,30.60 L113.47,29.90 L113.64,29.20 L113.81,28.50 L113.98,27.80 L114.15,27.10 L114.32,26.40 L114.51,25.70 L114.70,25.00 L114.90,24.27 L115.11,23.52 L115.32,22.77 L115.54,22.01 L115.77,21.28 L116.00,20.57 L116.25,19.91 L116.50,19.30 L116.70,18.89 L116.90,18.50 L117.12,18.13 L117.33,17.79 L117.55,17.45 L117.77,17.13 L117.99,16.81 L118.20,16.50 L118.37,16.24 L118.54,15.97 L118.71,15.71 L118.87,15.46 L119.04,15.22 L119.22,15.00 L119.40,14.79 L119.60,14.60 L119.79,14.44 L119.99,14.28 L120.21,14.13 L120.42,14.00 L120.64,13.88 L120.86,13.79 L121.08,13.73 L121.30,13.70 L121.51,13.71 L121.73,13.74 L121.95,13.81 L122.16,13.89 L122.38,14.00 L122.59,14.12 L122.80,14.26 L123.00,14.40 L123.23,14.59 L123.46,14.82 L123.68,15.07 L123.90,15.33 L124.11,15.62 L124.31,15.91 L124.51,16.21 L124.70,16.50 L124.90,16.82 L125.08,17.14 L125.26,17.46 L125.43,17.80 L125.59,18.15 L125.76,18.51 L125.93,18.89 L126.10,19.30 L126.35,19.91 L126.60,20.58 L126.84,21.29 L127.09,22.02 L127.35,22.77 L127.60,23.53 L127.85,24.28 L128.10,25.00 L128.35,25.70 L128.61,26.40 L128.86,27.10 L129.12,27.80 L129.37,28.50 L129.62,29.19 L129.86,29.90 L130.10,30.60 L130.32,31.28 L130.54,31.94 L130.74,32.58 L130.94,33.22 L131.14,33.90 L131.35,34.62 L131.57,35.42 L131.80,36.30 L132.27,38.20 L132.78,40.40 L133.32,42.84 L133.88,45.44 L134.45,48.13 L135.02,50.85 L135.59,53.53 L136.13,56.09 L136.67,58.57 L137.21,61.06 L137.74,63.55 L138.28,66.04 L138.81,68.53 L139.34,71.02 L139.87,73.51 L140.39,76.01 L140.91,78.52 L141.42,81.03 L141.92,83.54 L142.43,86.05 L142.93,88.56 L143.44,91.08 L143.96,93.60 L144.49,96.12 L145.04,98.68 L145.60,101.26 L146.16,103.84 L146.72,106.43 L147.30,109.00 L147.88,111.56 L148.46,114.09 L149.05,116.59 L149.62,118.96 L150.21,121.36 L150.81,123.75 L151.41,126.11 L152.01,128.43 L152.59,130.67 L153.16,132.81 L153.69,134.84 L154.07,136.28 L154.44,137.67 L154.80,139.02 L155.16,140.32 L155.50,141.58 L155.84,142.80 L156.18,143.98 L156.51,145.11 L156.77,145.97 L157.03,146.79 L157.28,147.57 L157.52,148.34 L157.77,149.09 L158.02,149.83 L158.27,150.57 L158.52,151.32 L158.78,152.05 L159.03,152.77 L159.28,153.48 L159.53,154.19 L159.79,154.90 L160.05,155.61 L160.32,156.33 L160.59,157.05 L160.87,157.81 L161.16,158.58 L161.45,159.34 L161.74,160.12 L162.04,160.89 L162.34,161.67 L162.64,162.45 L162.95,163.24 L163.28,164.08 L163.61,164.93 L163.95,165.79 L164.29,166.66 L164.64,167.52 L164.99,168.37 L165.34,169.22 L165.70,170.06 L166.05,170.85 L166.39,171.64 L166.74,172.42 L167.10,173.20 L167.46,173.97 L167.82,174.74 L168.20,175.50 L168.58,176.25 L168.97,176.98 L169.36,177.71 L169.76,178.44 L170.17,179.15 L170.58,179.87 L171.00,180.57 L171.44,181.28 L171.88,181.98 L172.34,182.69 L172.82,183.39 L173.30,184.10 L173.80,184.80 L174.30,185.49 L174.80,186.17 L175.31,186.84 L175.82,187.50 L176.31,188.12 L176.80,188.74 L177.30,189.35 L177.80,189.95 L178.31,190.54 L178.80,191.11 L179.29,191.66 L179.78,192.18 L180.17,192.60 L180.55,193.00 L180.93,193.39 L181.30,193.77 L181.68,194.13 L182.06,194.50 L182.45,194.85 L182.85,195.21 L183.28,195.58 L183.70,195.93 L184.13,196.28 L184.57,196.63 L185.02,196.97 L185.48,197.32 L185.95,197.66 L186.44,198.01 L187.01,198.41 L187.60,198.81 L188.21,199.21 L188.84,199.61 L189.47,200.01 L190.11,200.41 L190.76,200.81 L191.40,201.20 L192.08,201.62 L192.76,202.03 L193.46,202.44 L194.16,202.85 L194.86,203.26 L195.57,203.66 L196.27,204.05 L196.98,204.44 L197.68,204.82 L198.38,205.20 L199.08,205.57 L199.78,205.94 L200.49,206.30 L201.20,206.66 L201.90,207.00 L202.61,207.34 L203.30,207.65 L203.99,207.97 L204.69,208.27 L205.38,208.57 L206.08,208.86 L206.77,209.14 L207.47,209.41 L208.16,209.67 L208.84,209.91 L209.51,210.14 L210.18,210.36 L210.85,210.57 L211.53,210.77 L212.20,210.98 L212.87,211.18 L213.55,211.38 L214.22,211.57 L214.89,211.76 L215.56,211.95 L216.23,212.14 L216.91,212.32 L217.58,212.50 L218.26,212.69 L218.93,212.87 L219.61,213.06 L220.29,213.26 L220.97,213.45 L221.65,213.64 L222.34,213.83 L223.02,214.02 L223.70,214.21 L224.38,214.39 L225.05,214.57 L225.72,214.75 L226.40,214.93 L227.07,215.10 L227.74,215.27 L228.41,215.44 L229.08,215.60 L229.74,215.76 L230.37,215.91 L231.00,216.06 L231.62,216.20 L232.24,216.35 L232.86,216.48 L233.49,216.62 L234.13,216.75 L234.78,216.87 L235.49,217.00 L236.19,217.12 L236.89,217.23 L237.61,217.34 L238.34,217.44 L239.10,217.55 L239.89,217.65 L240.72,217.76 L241.90,217.90 L243.14,218.05 L244.44,218.19 L245.78,218.33 L247.16,218.48 L248.57,218.62 L250.00,218.76 L251.44,218.90 L253.15,219.07 L254.92,219.23 L256.74,219.39 L258.58,219.55 L260.44,219.71 L262.31,219.88 L264.16,220.04 L266.00,220.20" stroke="#800000" stroke-opacity="0.59"/>
</g>
<rect x="330.60" y="1.70" width="215.80" height="215.50" fill="none" stroke="#7c7c7c" stroke-width="1.35"/>
<line x1="353.35" y1="216.40" x2="353.35" y2="213.60" stroke="#5a5a5a" stroke-width="1.00"/>
<text x="353.35" y="231.00" font-size="13.30" text-anchor="middle" font-weight="normal">400</text>
<line x1="398.85" y1="216.40" x2="398.85" y2="213.60" stroke="#5a5a5a" stroke-width="1.00"/>
<text x="398.85" y="231.00" font-size="13.30" text-anchor="middle" font-weight="normal">600</text>
<line x1="444.35" y1="216.40" x2="444.35" y2="213.60" stroke="#5a5a5a" stroke-width="1.00"/>
<text x="444.35" y="231.00" font-size="13.30" text-anchor="middle" font-weight="normal">800</text>
<line x1="489.85" y1="216.40" x2="489.85" y2="213.60" stroke="#5a5a5a" stroke-width="1.00"/>
<text x="489.85" y="231.00" font-size="13.30" text-anchor="middle" font-weight="normal">1000</text>
<line x1="535.35" y1="216.40" x2="535.35" y2="213.60" stroke="#5a5a5a" stroke-width="1.00"/>
<text x="535.35" y="231.00" font-size="13.30" text-anchor="middle" font-weight="normal">1200</text>
<line x1="376.10" y1="216.40" x2="376.10" y2="214.80" stroke="#5a5a5a" stroke-width="1.00"/>
<line x1="421.60" y1="216.40" x2="421.60" y2="214.80" stroke="#5a5a5a" stroke-width="1.00"/>
<line x1="467.10" y1="216.40" x2="467.10" y2="214.80" stroke="#5a5a5a" stroke-width="1.00"/>
<line x1="512.60" y1="216.40" x2="512.60" y2="214.80" stroke="#5a5a5a" stroke-width="1.00"/>
<line x1="331.40" y1="198.93" x2="333.20" y2="198.93" stroke="#5a5a5a" stroke-width="1.00"/>
<line x1="331.40" y1="178.16" x2="334.40" y2="178.16" stroke="#5a5a5a" stroke-width="1.00"/>
<text x="327.50" y="182.16" font-size="13.30" text-anchor="end" font-weight="normal">0.2</text>
<line x1="331.40" y1="157.39" x2="333.20" y2="157.39" stroke="#5a5a5a" stroke-width="1.00"/>
<line x1="331.40" y1="136.62" x2="334.40" y2="136.62" stroke="#5a5a5a" stroke-width="1.00"/>
<text x="327.50" y="140.62" font-size="13.30" text-anchor="end" font-weight="normal">0.4</text>
<line x1="331.40" y1="115.85" x2="333.20" y2="115.85" stroke="#5a5a5a" stroke-width="1.00"/>
<line x1="331.40" y1="95.08" x2="334.40" y2="95.08" stroke="#5a5a5a" stroke-width="1.00"/>
<text x="327.50" y="99.08" font-size="13.30" text-anchor="end" font-weight="normal">0.6</text>
<line x1="331.40" y1="74.31" x2="333.20" y2="74.31" stroke="#5a5a5a" stroke-width="1.00"/>
<line x1="331.40" y1="53.54" x2="334.40" y2="53.54" stroke="#5a5a5a" stroke-width="1.00"/>
<text x="327.50" y="57.54" font-size="13.30" text-anchor="end" font-weight="normal">0.8</text>
<line x1="331.40" y1="32.77" x2="333.20" y2="32.77" stroke="#5a5a5a" stroke-width="1.00"/>
<line x1="331.40" y1="12.00" x2="334.40" y2="12.00" stroke="#5a5a5a" stroke-width="1.00"/>
<text x="327.50" y="16.00" font-size="13.30" text-anchor="end" font-weight="normal">1.0</text>
<text x="439.70" y="247.00" font-size="14.20" text-anchor="middle" font-weight="normal">Wavelength (nm)</text>
<text transform="translate(304.1,182.0) rotate(-90)" font-size="14.05">Normalized extinction</text>
<text x="341.50" y="22.20" font-size="15.00" text-anchor="start" font-weight="bold">b)</text>
<text x="543.20" y="19.40" font-size="13.00" text-anchor="end" font-weight="bold">Ag NPs arrays</text>
<line x1="475.50" y1="40.20" x2="503.50" y2="40.20" stroke="#6e6eff" stroke-width="1.25"/>
<line x1="475.50" y1="55.70" x2="503.50" y2="55.70" stroke="#3c9c3c" stroke-width="1.25"/>
<line x1="475.50" y1="71.00" x2="503.50" y2="71.00" stroke="#ff7c7c" stroke-width="1.25"/>
<line x1="475.50" y1="86.40" x2="503.50" y2="86.40" stroke="#b46868" stroke-width="1.25"/>
<text x="506.70" y="44.80" font-size="13.00" text-anchor="start" font-weight="normal">20nm</text>
<text x="506.70" y="60.30" font-size="13.00" text-anchor="start" font-weight="normal">30nm</text>
<text x="506.70" y="75.60" font-size="13.00" text-anchor="start" font-weight="normal">40nm</text>
<text x="506.70" y="91.00" font-size="13.00" text-anchor="start" font-weight="normal">50nm</text>
<g fill="none" stroke-width="1.25" stroke-linejoin="round">
<path d="M330.60,148.00 L330.88,149.13 L331.15,150.27 L331.43,151.41 L331.71,152.55 L331.98,153.69 L332.26,154.81 L332.53,155.91 L332.80,157.00 L333.04,157.99 L333.29,158.98 L333.53,159.97 L333.77,160.95 L334.00,161.90 L334.24,162.82 L334.47,163.69 L334.70,164.50 L334.87,165.10 L335.03,165.75 L335.19,166.40 L335.35,167.02 L335.51,167.57 L335.68,168.01 L335.84,168.30 L336.00,168.40 L336.17,168.29 L336.35,167.98 L336.53,167.51 L336.71,166.91 L336.88,166.23 L337.06,165.49 L337.23,164.73 L337.40,164.00 L337.69,162.62 L337.96,161.01 L338.22,159.23 L338.48,157.35 L338.74,155.42 L339.01,153.52 L339.30,151.69 L339.60,150.00 L339.87,148.67 L340.16,147.38 L340.45,146.12 L340.76,144.89 L341.06,143.67 L341.37,142.46 L341.68,141.24 L341.98,140.00 L342.29,138.75 L342.60,137.50 L342.91,136.25 L343.22,135.00 L343.54,133.75 L343.85,132.50 L344.16,131.25 L344.47,130.00 L344.78,128.75 L345.09,127.50 L345.41,126.25 L345.71,125.00 L346.02,123.75 L346.33,122.50 L346.63,121.25 L346.94,120.00 L347.23,118.75 L347.53,117.50 L347.82,116.25 L348.11,115.00 L348.40,113.75 L348.69,112.50 L348.98,111.25 L349.26,110.00 L349.56,108.72 L349.86,107.39 L350.16,106.04 L350.46,104.70 L350.75,103.40 L351.02,102.17 L351.28,101.02 L351.50,100.00 L351.62,99.44 L351.72,98.92 L351.82,98.44 L351.91,97.98 L352.00,97.54 L352.09,97.10 L352.19,96.66 L352.30,96.20 L352.42,95.73 L352.55,95.25 L352.69,94.77 L352.82,94.30 L352.97,93.83 L353.11,93.37 L353.26,92.93 L353.40,92.50 L353.52,92.16 L353.64,91.84 L353.76,91.52 L353.88,91.21 L354.01,90.91 L354.14,90.61 L354.27,90.31 L354.40,90.00 L354.54,89.69 L354.68,89.38 L354.83,89.07 L354.98,88.76 L355.13,88.45 L355.28,88.14 L355.44,87.82 L355.60,87.50 L355.78,87.14 L355.97,86.76 L356.16,86.38 L356.35,86.00 L356.54,85.62 L356.73,85.24 L356.92,84.86 L357.10,84.50 L357.26,84.18 L357.41,83.85 L357.57,83.53 L357.72,83.22 L357.86,82.91 L358.01,82.60 L358.16,82.30 L358.30,82.00 L358.43,81.75 L358.55,81.51 L358.67,81.27 L358.78,81.04 L358.90,80.81 L359.03,80.56 L359.16,80.29 L359.30,80.00 L359.54,79.48 L359.80,78.91 L360.08,78.29 L360.38,77.64 L360.67,76.98 L360.97,76.30 L361.26,75.64 L361.54,75.00 L361.81,74.38 L362.09,73.75 L362.36,73.13 L362.63,72.51 L362.89,71.88 L363.16,71.26 L363.42,70.63 L363.68,70.00 L363.93,69.37 L364.19,68.73 L364.44,68.10 L364.69,67.47 L364.94,66.83 L365.18,66.18 L365.42,65.52 L365.65,64.85 L365.90,64.09 L366.14,63.33 L366.38,62.56 L366.61,61.78 L366.84,60.98 L367.07,60.16 L367.31,59.31 L367.54,58.44 L367.83,57.34 L368.13,56.20 L368.42,55.02 L368.71,53.82 L369.00,52.58 L369.30,51.33 L369.60,50.06 L369.91,48.78 L370.27,47.26 L370.64,45.66 L371.01,44.00 L371.39,42.33 L371.77,40.69 L372.15,39.11 L372.53,37.63 L372.90,36.30 L373.15,35.48 L373.41,34.71 L373.67,33.99 L373.92,33.30 L374.17,32.63 L374.42,31.97 L374.66,31.30 L374.90,30.60 L375.13,29.90 L375.34,29.20 L375.56,28.50 L375.77,27.80 L375.98,27.10 L376.18,26.40 L376.39,25.70 L376.60,25.00 L376.81,24.28 L377.03,23.53 L377.25,22.78 L377.46,22.02 L377.68,21.29 L377.89,20.58 L378.10,19.91 L378.30,19.30 L378.44,18.90 L378.57,18.52 L378.70,18.17 L378.82,17.83 L378.95,17.50 L379.09,17.17 L379.24,16.84 L379.40,16.50 L379.58,16.14 L379.77,15.77 L379.96,15.39 L380.16,15.02 L380.38,14.66 L380.60,14.32 L380.84,14.00 L381.10,13.70 L381.36,13.44 L381.63,13.17 L381.92,12.91 L382.22,12.67 L382.52,12.46 L382.82,12.29 L383.11,12.17 L383.40,12.10 L383.63,12.10 L383.87,12.14 L384.11,12.21 L384.34,12.31 L384.57,12.43 L384.79,12.56 L385.00,12.68 L385.20,12.80 L385.36,12.89 L385.51,12.99 L385.65,13.08 L385.79,13.18 L385.92,13.29 L386.05,13.41 L386.17,13.55 L386.30,13.70 L386.48,13.97 L386.65,14.28 L386.81,14.62 L386.97,14.99 L387.12,15.37 L387.28,15.76 L387.44,16.14 L387.60,16.50 L387.77,16.84 L387.95,17.18 L388.12,17.50 L388.30,17.83 L388.48,18.17 L388.66,18.52 L388.83,18.90 L389.00,19.30 L389.23,19.91 L389.44,20.58 L389.66,21.28 L389.87,22.02 L390.07,22.77 L390.28,23.53 L390.49,24.28 L390.70,25.00 L390.91,25.71 L391.13,26.41 L391.35,27.12 L391.56,27.83 L391.78,28.53 L391.99,29.23 L392.20,29.92 L392.40,30.60 L392.58,31.20 L392.75,31.77 L392.92,32.31 L393.09,32.86 L393.25,33.43 L393.43,34.05 L393.61,34.73 L393.80,35.50 L394.22,37.33 L394.67,39.49 L395.16,41.92 L395.66,44.52 L396.18,47.24 L396.71,49.99 L397.23,52.70 L397.75,55.30 L398.27,57.90 L398.79,60.52 L399.32,63.14 L399.85,65.77 L400.39,68.42 L400.94,71.08 L401.50,73.76 L402.07,76.46 L402.68,79.32 L403.31,82.23 L403.95,85.16 L404.60,88.10 L405.26,91.04 L405.92,93.97 L406.59,96.87 L407.26,99.73 L407.91,102.47 L408.57,105.22 L409.24,107.97 L409.91,110.69 L410.58,113.38 L411.25,116.01 L411.90,118.57 L412.54,121.04 L413.05,123.04 L413.56,124.99 L414.06,126.89 L414.55,128.75 L415.05,130.57 L415.54,132.36 L416.03,134.13 L416.53,135.88 L416.97,137.42 L417.41,138.93 L417.85,140.40 L418.28,141.86 L418.72,143.31 L419.17,144.74 L419.63,146.18 L420.10,147.63 L420.57,149.06 L421.05,150.49 L421.54,151.91 L422.03,153.33 L422.54,154.74 L423.05,156.16 L423.57,157.57 L424.11,158.97 L424.67,160.40 L425.24,161.82 L425.82,163.24 L426.41,164.65 L427.01,166.06 L427.63,167.47 L428.26,168.87 L428.91,170.26 L429.58,171.66 L430.27,173.05 L430.98,174.44 L431.70,175.82 L432.43,177.20 L433.17,178.56 L433.91,179.92 L434.66,181.27 L435.39,182.58 L436.13,183.89 L436.88,185.19 L437.64,186.49 L438.40,187.77 L439.16,189.04 L439.91,190.30 L440.67,191.53 L441.37,192.69 L442.08,193.85 L442.78,195.00 L443.48,196.14 L444.18,197.26 L444.89,198.34 L445.61,199.40 L446.35,200.41 L447.01,201.28 L447.67,202.13 L448.34,202.96 L449.01,203.77 L449.69,204.55 L450.39,205.29 L451.10,205.99 L451.82,206.65 L452.49,207.21 L453.16,207.74 L453.83,208.24 L454.52,208.70 L455.23,209.15 L455.95,209.56 L456.68,209.95 L457.44,210.31 L458.25,210.65 L459.06,210.96 L459.90,211.23 L460.75,211.48 L461.62,211.70 L462.53,211.91 L463.47,212.10 L464.45,212.29 L465.77,212.52 L467.14,212.72 L468.55,212.88 L470.02,213.03 L471.55,213.16 L473.15,213.28 L474.82,213.40 L476.57,213.52 L479.22,213.69 L482.03,213.85 L484.98,213.98 L488.08,214.11 L491.30,214.23 L494.63,214.35 L498.07,214.47 L501.60,214.59 L506.55,214.76 L511.81,214.93 L517.33,215.09 L523.01,215.26 L528.80,215.42 L534.60,215.58 L540.36,215.74 L546.00,215.90" stroke="#0000ff" stroke-opacity="0.57"/>
<path d="M330.60,144.00 L330.88,145.26 L331.15,146.52 L331.43,147.79 L331.71,149.05 L331.99,150.31 L332.26,151.56 L332.53,152.79 L332.80,154.00 L333.04,155.12 L333.29,156.24 L333.53,157.37 L333.76,158.48 L334.00,159.56 L334.23,160.60 L334.47,161.59 L334.70,162.50 L334.86,163.16 L335.03,163.85 L335.19,164.55 L335.35,165.22 L335.51,165.81 L335.67,166.27 L335.83,166.59 L336.00,166.70 L336.17,166.59 L336.35,166.30 L336.52,165.85 L336.70,165.27 L336.88,164.62 L337.05,163.91 L337.23,163.20 L337.40,162.50 L337.68,161.25 L337.95,159.82 L338.22,158.24 L338.48,156.58 L338.75,154.88 L339.02,153.18 L339.30,151.54 L339.60,150.00 L339.88,148.69 L340.17,147.42 L340.46,146.16 L340.76,144.93 L341.07,143.70 L341.37,142.47 L341.68,141.24 L341.98,140.00 L342.29,138.75 L342.60,137.50 L342.91,136.25 L343.22,135.00 L343.54,133.75 L343.85,132.50 L344.16,131.25 L344.47,130.00 L344.78,128.75 L345.09,127.50 L345.41,126.25 L345.71,125.00 L346.02,123.75 L346.33,122.50 L346.63,121.25 L346.94,120.00 L347.23,118.75 L347.53,117.50 L347.82,116.25 L348.11,115.00 L348.40,113.75 L348.69,112.50 L348.98,111.25 L349.26,110.00 L349.56,108.72 L349.86,107.39 L350.16,106.04 L350.46,104.70 L350.75,103.40 L351.02,102.17 L351.28,101.02 L351.50,100.00 L351.62,99.44 L351.72,98.92 L351.82,98.44 L351.91,97.98 L352.00,97.54 L352.09,97.10 L352.19,96.66 L352.30,96.20 L352.42,95.73 L352.55,95.24 L352.68,94.76 L352.82,94.28 L352.96,93.81 L353.11,93.35 L353.25,92.91 L353.40,92.50 L353.52,92.19 L353.64,91.90 L353.76,91.61 L353.88,91.33 L354.01,91.07 L354.14,90.81 L354.27,90.55 L354.40,90.30 L354.52,90.09 L354.64,89.88 L354.76,89.68 L354.89,89.49 L355.01,89.30 L355.14,89.10 L355.27,88.90 L355.40,88.70 L355.54,88.47 L355.69,88.23 L355.84,87.99 L355.99,87.74 L356.14,87.50 L356.30,87.26 L356.45,87.03 L356.60,86.80 L356.73,86.60 L356.87,86.40 L356.99,86.20 L357.12,86.01 L357.26,85.82 L357.40,85.64 L357.54,85.47 L357.70,85.30 L357.87,85.14 L358.05,85.00 L358.24,84.86 L358.44,84.73 L358.63,84.60 L358.83,84.47 L359.02,84.34 L359.20,84.20 L359.37,84.06 L359.54,83.93 L359.70,83.79 L359.86,83.66 L360.02,83.51 L360.18,83.36 L360.34,83.19 L360.50,83.00 L360.73,82.70 L360.96,82.38 L361.20,82.02 L361.43,81.65 L361.67,81.25 L361.91,80.84 L362.15,80.43 L362.40,80.00 L362.73,79.44 L363.07,78.85 L363.42,78.23 L363.77,77.59 L364.12,76.94 L364.47,76.29 L364.81,75.64 L365.14,75.00 L365.44,74.38 L365.74,73.76 L366.04,73.14 L366.33,72.52 L366.61,71.89 L366.88,71.26 L367.15,70.63 L367.42,70.00 L367.68,69.37 L367.93,68.74 L368.17,68.11 L368.40,67.47 L368.64,66.83 L368.87,66.18 L369.09,65.52 L369.32,64.85 L369.56,64.09 L369.80,63.33 L370.02,62.56 L370.25,61.78 L370.48,60.98 L370.71,60.16 L370.94,59.31 L371.19,58.44 L371.50,57.34 L371.82,56.20 L372.15,55.02 L372.48,53.81 L372.82,52.58 L373.16,51.33 L373.51,50.06 L373.85,48.78 L374.26,47.26 L374.67,45.66 L375.09,44.00 L375.52,42.33 L375.94,40.69 L376.37,39.11 L376.79,37.63 L377.20,36.30 L377.48,35.47 L377.76,34.71 L378.04,33.99 L378.32,33.30 L378.59,32.63 L378.86,31.97 L379.13,31.30 L379.40,30.60 L379.66,29.90 L379.91,29.20 L380.15,28.50 L380.39,27.80 L380.64,27.10 L380.89,26.40 L381.14,25.70 L381.40,25.00 L381.68,24.27 L381.97,23.53 L382.26,22.77 L382.56,22.02 L382.85,21.29 L383.15,20.58 L383.43,19.91 L383.70,19.30 L383.88,18.90 L384.06,18.52 L384.23,18.17 L384.40,17.83 L384.56,17.50 L384.74,17.17 L384.91,16.84 L385.10,16.50 L385.30,16.14 L385.49,15.77 L385.69,15.39 L385.89,15.02 L386.10,14.66 L386.32,14.32 L386.56,13.99 L386.80,13.70 L387.03,13.45 L387.27,13.20 L387.52,12.96 L387.78,12.73 L388.04,12.53 L388.30,12.37 L388.55,12.26 L388.80,12.20 L389.00,12.20 L389.19,12.23 L389.39,12.30 L389.58,12.39 L389.77,12.50 L389.96,12.62 L390.13,12.76 L390.30,12.90 L390.48,13.07 L390.65,13.27 L390.80,13.48 L390.95,13.72 L391.09,13.96 L391.23,14.23 L391.36,14.51 L391.50,14.80 L391.70,15.26 L391.88,15.77 L392.06,16.31 L392.23,16.88 L392.40,17.48 L392.57,18.09 L392.73,18.70 L392.90,19.30 L393.08,19.98 L393.26,20.68 L393.43,21.39 L393.60,22.11 L393.77,22.84 L393.95,23.56 L394.12,24.29 L394.30,25.00 L394.48,25.71 L394.67,26.42 L394.87,27.13 L395.06,27.85 L395.25,28.55 L395.44,29.25 L395.62,29.93 L395.80,30.60 L395.94,31.15 L396.07,31.66 L396.20,32.15 L396.32,32.63 L396.45,33.14 L396.58,33.69 L396.73,34.30 L396.90,35.00 L397.33,36.81 L397.84,38.99 L398.41,41.46 L399.03,44.13 L399.67,46.91 L400.32,49.73 L400.95,52.51 L401.56,55.15 L402.17,57.78 L402.78,60.41 L403.39,63.05 L404.00,65.70 L404.61,68.36 L405.23,71.04 L405.84,73.73 L406.45,76.44 L407.08,79.31 L407.71,82.22 L408.34,85.15 L408.97,88.09 L409.60,91.03 L410.23,93.96 L410.86,96.87 L411.50,99.73 L412.12,102.47 L412.75,105.22 L413.38,107.97 L414.02,110.70 L414.65,113.38 L415.28,116.01 L415.90,118.57 L416.51,121.04 L417.02,123.04 L417.52,124.99 L418.01,126.89 L418.51,128.75 L419.00,130.57 L419.49,132.36 L419.99,134.13 L420.48,135.88 L420.93,137.42 L421.37,138.93 L421.81,140.40 L422.25,141.86 L422.70,143.30 L423.15,144.74 L423.60,146.18 L424.07,147.62 L424.53,149.04 L425.00,150.45 L425.48,151.86 L425.96,153.26 L426.44,154.66 L426.93,156.05 L427.43,157.44 L427.93,158.82 L428.42,160.16 L428.91,161.49 L429.41,162.82 L429.91,164.14 L430.41,165.46 L430.93,166.76 L431.44,168.05 L431.96,169.32 L432.46,170.52 L432.95,171.71 L433.44,172.88 L433.95,174.05 L434.45,175.20 L434.98,176.34 L435.52,177.48 L436.08,178.60 L436.64,179.69 L437.23,180.78 L437.83,181.85 L438.44,182.91 L439.06,183.97 L439.69,185.01 L440.34,186.03 L440.99,187.04 L441.63,188.00 L442.28,188.96 L442.94,189.90 L443.61,190.84 L444.29,191.75 L444.98,192.65 L445.68,193.52 L446.38,194.37 L447.04,195.15 L447.70,195.91 L448.37,196.65 L449.05,197.37 L449.73,198.08 L450.42,198.77 L451.12,199.44 L451.82,200.09 L452.49,200.68 L453.15,201.26 L453.82,201.82 L454.50,202.36 L455.19,202.89 L455.88,203.39 L456.57,203.88 L457.28,204.35 L457.95,204.77 L458.63,205.18 L459.32,205.57 L460.01,205.94 L460.71,206.29 L461.42,206.63 L462.15,206.96 L462.89,207.27 L463.70,207.59 L464.52,207.88 L465.35,208.15 L466.19,208.41 L467.06,208.66 L467.94,208.90 L468.84,209.14 L469.76,209.38 L470.86,209.65 L471.99,209.90 L473.15,210.16 L474.34,210.40 L475.54,210.63 L476.76,210.86 L477.99,211.08 L479.24,211.30 L480.61,211.54 L481.98,211.77 L483.37,211.99 L484.77,212.20 L486.21,212.41 L487.70,212.61 L489.24,212.80 L490.84,212.98 L493.00,213.19 L495.23,213.39 L497.53,213.57 L499.92,213.74 L502.39,213.89 L504.96,214.04 L507.61,214.20 L510.37,214.35 L514.31,214.55 L518.53,214.74 L522.95,214.93 L527.52,215.10 L532.17,215.28 L536.84,215.45 L541.47,215.62 L546.00,215.80" stroke="#008000" stroke-opacity="0.76"/>
<path d="M330.60,156.50 L330.78,157.82 L330.96,159.16 L331.15,160.50 L331.33,161.84 L331.51,163.17 L331.69,164.47 L331.85,165.75 L332.00,167.00 L332.11,168.05 L332.21,169.07 L332.30,170.07 L332.38,171.05 L332.47,172.03 L332.56,173.01 L332.67,174.00 L332.80,175.00 L332.95,176.08 L333.10,177.20 L333.26,178.34 L333.43,179.47 L333.62,180.58 L333.82,181.64 L334.05,182.62 L334.30,183.50 L334.49,184.08 L334.69,184.70 L334.91,185.31 L335.14,185.87 L335.37,186.37 L335.59,186.76 L335.80,187.02 L336.00,187.10 L336.21,186.94 L336.42,186.54 L336.61,185.95 L336.80,185.23 L336.98,184.41 L337.16,183.57 L337.33,182.75 L337.50,182.00 L337.68,181.20 L337.86,180.40 L338.02,179.58 L338.18,178.74 L338.33,177.87 L338.49,176.97 L338.64,176.01 L338.80,175.00 L339.04,173.38 L339.29,171.58 L339.53,169.66 L339.78,167.67 L340.02,165.65 L340.26,163.67 L340.49,161.77 L340.70,160.00 L340.86,158.65 L341.00,157.36 L341.14,156.10 L341.27,154.87 L341.41,153.66 L341.55,152.45 L341.71,151.23 L341.90,150.00 L342.11,148.75 L342.35,147.50 L342.60,146.25 L342.87,145.00 L343.14,143.75 L343.40,142.50 L343.66,141.25 L343.91,140.00 L344.14,138.75 L344.36,137.50 L344.58,136.25 L344.80,135.00 L345.02,133.75 L345.24,132.50 L345.45,131.25 L345.68,130.00 L345.90,128.75 L346.13,127.50 L346.35,126.25 L346.58,125.00 L346.81,123.75 L347.04,122.50 L347.28,121.25 L347.52,120.00 L347.76,118.75 L348.01,117.50 L348.27,116.25 L348.52,115.00 L348.78,113.75 L349.04,112.50 L349.30,111.25 L349.55,110.00 L349.82,108.72 L350.09,107.39 L350.37,106.04 L350.65,104.70 L350.91,103.40 L351.17,102.17 L351.40,101.02 L351.60,100.00 L351.71,99.44 L351.80,98.92 L351.88,98.44 L351.96,97.98 L352.04,97.54 L352.12,97.10 L352.21,96.66 L352.30,96.20 L352.40,95.73 L352.52,95.27 L352.63,94.81 L352.75,94.35 L352.87,93.89 L352.98,93.43 L353.10,92.97 L353.20,92.50 L353.29,92.02 L353.37,91.52 L353.45,91.02 L353.52,90.51 L353.59,90.02 L353.68,89.55 L353.78,89.11 L353.90,88.70 L354.00,88.42 L354.11,88.16 L354.23,87.91 L354.35,87.68 L354.48,87.45 L354.62,87.23 L354.76,87.02 L354.90,86.80 L355.04,86.59 L355.19,86.39 L355.35,86.19 L355.51,85.99 L355.67,85.80 L355.84,85.62 L356.02,85.45 L356.20,85.30 L356.37,85.17 L356.55,85.05 L356.73,84.94 L356.91,84.83 L357.10,84.74 L357.30,84.65 L357.50,84.57 L357.70,84.50 L357.92,84.44 L358.16,84.39 L358.40,84.35 L358.65,84.32 L358.89,84.30 L359.13,84.27 L359.37,84.24 L359.60,84.20 L359.80,84.16 L359.99,84.13 L360.18,84.10 L360.36,84.06 L360.55,84.02 L360.73,83.96 L360.92,83.89 L361.10,83.80 L361.34,83.65 L361.58,83.46 L361.81,83.24 L362.05,83.00 L362.28,82.75 L362.52,82.50 L362.76,82.24 L363.00,82.00 L363.27,81.75 L363.55,81.50 L363.83,81.25 L364.12,81.00 L364.40,80.73 L364.68,80.45 L364.94,80.14 L365.20,79.80 L365.52,79.30 L365.82,78.75 L366.11,78.15 L366.39,77.52 L366.66,76.87 L366.92,76.22 L367.18,75.57 L367.44,74.94 L367.70,74.33 L367.95,73.72 L368.20,73.10 L368.44,72.48 L368.68,71.87 L368.91,71.24 L369.14,70.62 L369.36,69.99 L369.58,69.36 L369.78,68.73 L369.98,68.10 L370.18,67.47 L370.37,66.83 L370.57,66.18 L370.77,65.52 L370.97,64.85 L371.20,64.09 L371.42,63.32 L371.64,62.55 L371.87,61.76 L372.10,60.96 L372.34,60.14 L372.58,59.29 L372.84,58.42 L373.17,57.29 L373.51,56.13 L373.87,54.93 L374.24,53.70 L374.62,52.44 L375.00,51.16 L375.38,49.86 L375.75,48.55 L376.19,46.96 L376.63,45.26 L377.08,43.51 L377.53,41.74 L377.98,40.00 L378.43,38.35 L378.87,36.84 L379.30,35.50 L379.57,34.77 L379.82,34.10 L380.08,33.49 L380.34,32.91 L380.59,32.35 L380.86,31.79 L381.12,31.21 L381.40,30.60 L381.71,29.92 L382.02,29.22 L382.34,28.53 L382.67,27.82 L383.00,27.12 L383.33,26.41 L383.66,25.70 L384.00,25.00 L384.35,24.27 L384.70,23.53 L385.06,22.77 L385.42,22.02 L385.78,21.28 L386.13,20.58 L386.47,19.91 L386.80,19.30 L387.02,18.90 L387.24,18.52 L387.45,18.17 L387.65,17.83 L387.86,17.50 L388.06,17.17 L388.28,16.84 L388.50,16.50 L388.74,16.14 L388.97,15.76 L389.22,15.38 L389.46,15.01 L389.72,14.64 L389.97,14.30 L390.23,13.98 L390.50,13.70 L390.71,13.50 L390.93,13.32 L391.15,13.14 L391.37,12.99 L391.60,12.84 L391.83,12.72 L392.06,12.60 L392.30,12.50 L392.54,12.42 L392.78,12.35 L393.03,12.29 L393.29,12.25 L393.54,12.22 L393.80,12.20 L394.05,12.20 L394.30,12.20 L394.54,12.21 L394.79,12.23 L395.03,12.27 L395.28,12.31 L395.52,12.37 L395.75,12.43 L395.98,12.51 L396.20,12.60 L396.41,12.70 L396.61,12.80 L396.80,12.92 L397.00,13.05 L397.18,13.19 L397.36,13.34 L397.53,13.51 L397.70,13.70 L397.91,13.98 L398.10,14.29 L398.28,14.63 L398.45,15.00 L398.62,15.38 L398.78,15.76 L398.94,16.14 L399.10,16.50 L399.26,16.84 L399.41,17.17 L399.55,17.50 L399.69,17.83 L399.84,18.17 L399.98,18.53 L400.14,18.90 L400.30,19.30 L400.55,19.92 L400.81,20.58 L401.08,21.29 L401.36,22.03 L401.64,22.78 L401.93,23.53 L402.22,24.28 L402.50,25.00 L402.78,25.71 L403.08,26.41 L403.37,27.12 L403.67,27.83 L403.96,28.53 L404.25,29.23 L404.53,29.92 L404.80,30.60 L405.04,31.20 L405.26,31.77 L405.47,32.31 L405.68,32.86 L405.89,33.43 L406.11,34.04 L406.35,34.73 L406.60,35.50 L407.17,37.33 L407.80,39.49 L408.48,41.91 L409.20,44.52 L409.95,47.24 L410.70,49.99 L411.44,52.70 L412.16,55.30 L412.90,57.90 L413.63,60.51 L414.37,63.14 L415.12,65.77 L415.86,68.42 L416.61,71.08 L417.37,73.76 L418.12,76.46 L418.92,79.32 L419.73,82.22 L420.54,85.15 L421.35,88.09 L422.16,91.03 L422.98,93.96 L423.79,96.87 L424.60,99.73 L425.38,102.47 L426.17,105.22 L426.96,107.97 L427.75,110.69 L428.53,113.38 L429.30,116.01 L430.05,118.57 L430.78,121.04 L431.38,123.04 L431.95,124.99 L432.52,126.89 L433.07,128.75 L433.62,130.57 L434.17,132.37 L434.73,134.13 L435.29,135.88 L435.79,137.42 L436.29,138.93 L436.79,140.41 L437.28,141.87 L437.79,143.31 L438.30,144.75 L438.82,146.18 L439.35,147.62 L439.89,149.03 L440.44,150.44 L441.00,151.85 L441.57,153.25 L442.14,154.64 L442.72,156.01 L443.31,157.37 L443.89,158.72 L444.45,159.98 L445.02,161.24 L445.59,162.49 L446.17,163.73 L446.75,164.95 L447.33,166.15 L447.90,167.32 L448.48,168.46 L448.98,169.45 L449.48,170.42 L449.97,171.36 L450.47,172.29 L450.97,173.21 L451.48,174.12 L452.00,175.02 L452.55,175.92 L453.10,176.82 L453.68,177.71 L454.26,178.60 L454.86,179.47 L455.46,180.34 L456.07,181.20 L456.68,182.06 L457.28,182.90 L457.86,183.70 L458.44,184.50 L459.04,185.30 L459.63,186.09 L460.22,186.86 L460.80,187.62 L461.37,188.36 L461.92,189.08 L462.38,189.68 L462.83,190.26 L463.27,190.82 L463.70,191.37 L464.13,191.92 L464.56,192.46 L464.99,193.01 L465.43,193.56 L465.86,194.12 L466.29,194.67 L466.71,195.22 L467.14,195.77 L467.58,196.32 L468.02,196.87 L468.48,197.42 L468.96,197.97 L469.50,198.60 L470.06,199.23 L470.64,199.87 L471.23,200.51 L471.83,201.15 L472.44,201.76 L473.07,202.36 L473.71,202.93 L474.34,203.46 L474.99,203.98 L475.65,204.48 L476.32,204.96 L477.00,205.43 L477.69,205.88 L478.38,206.31 L479.08,206.71 L479.75,207.09 L480.43,207.44 L481.11,207.77 L481.79,208.09 L482.49,208.39 L483.19,208.68 L483.91,208.96 L484.63,209.23 L485.41,209.51 L486.19,209.77 L486.97,210.02 L487.77,210.25 L488.59,210.48 L489.42,210.70 L490.29,210.91 L491.19,211.13 L492.32,211.38 L493.48,211.63 L494.67,211.87 L495.91,212.10 L497.18,212.32 L498.49,212.53 L499.86,212.73 L501.27,212.93 L503.21,213.16 L505.24,213.38 L507.35,213.58 L509.54,213.76 L511.80,213.94 L514.12,214.10 L516.49,214.26 L518.91,214.41 L522.02,214.58 L525.27,214.74 L528.64,214.88 L532.09,215.01 L535.59,215.13 L539.09,215.25 L542.57,215.37 L546.00,215.50" stroke="#ff0000" stroke-opacity="0.51"/>
<path d="M330.60,152.00 L330.81,153.38 L331.03,154.78 L331.24,156.17 L331.45,157.57 L331.67,158.96 L331.88,160.33 L332.09,161.68 L332.30,163.00 L332.49,164.18 L332.67,165.36 L332.85,166.53 L333.04,167.68 L333.22,168.81 L333.41,169.91 L333.60,170.98 L333.80,172.00 L333.96,172.82 L334.12,173.64 L334.27,174.46 L334.43,175.25 L334.60,175.99 L334.78,176.68 L334.98,177.29 L335.20,177.80 L335.34,178.06 L335.48,178.31 L335.63,178.56 L335.79,178.77 L335.94,178.96 L336.10,179.10 L336.25,179.18 L336.40,179.20 L336.59,179.12 L336.77,178.92 L336.95,178.63 L337.13,178.28 L337.31,177.86 L337.48,177.42 L337.64,176.96 L337.80,176.50 L338.04,175.68 L338.25,174.75 L338.44,173.72 L338.62,172.63 L338.79,171.49 L338.95,170.32 L339.12,169.15 L339.30,168.00 L339.52,166.68 L339.74,165.29 L339.97,163.87 L340.19,162.44 L340.41,161.01 L340.62,159.61 L340.82,158.27 L341.00,157.00 L341.13,156.06 L341.24,155.17 L341.35,154.31 L341.45,153.48 L341.55,152.65 L341.65,151.80 L341.77,150.92 L341.90,150.00 L342.08,148.83 L342.27,147.62 L342.48,146.38 L342.69,145.11 L342.91,143.83 L343.14,142.54 L343.37,141.26 L343.59,140.00 L343.81,138.75 L344.04,137.50 L344.27,136.25 L344.50,135.00 L344.73,133.75 L344.97,132.50 L345.20,131.25 L345.44,130.00 L345.69,128.75 L345.93,127.50 L346.18,126.25 L346.43,125.00 L346.69,123.75 L346.94,122.50 L347.20,121.25 L347.45,120.00 L347.71,118.75 L347.97,117.50 L348.24,116.25 L348.50,115.00 L348.76,113.75 L349.03,112.50 L349.29,111.25 L349.55,110.00 L349.81,108.72 L350.09,107.39 L350.36,106.04 L350.64,104.70 L350.90,103.40 L351.15,102.17 L351.39,101.02 L351.60,100.00 L351.71,99.44 L351.81,98.91 L351.90,98.43 L351.99,97.96 L352.08,97.52 L352.17,97.08 L352.28,96.64 L352.40,96.20 L352.52,95.77 L352.65,95.34 L352.78,94.90 L352.92,94.47 L353.07,94.06 L353.23,93.67 L353.41,93.32 L353.60,93.00 L353.76,92.79 L353.94,92.60 L354.13,92.44 L354.32,92.28 L354.52,92.14 L354.72,91.99 L354.91,91.85 L355.10,91.70 L355.27,91.56 L355.43,91.42 L355.58,91.28 L355.74,91.14 L355.90,91.01 L356.06,90.87 L356.23,90.74 L356.40,90.60 L356.60,90.45 L356.81,90.30 L357.02,90.15 L357.24,90.00 L357.46,89.85 L357.68,89.70 L357.89,89.55 L358.10,89.40 L358.29,89.26 L358.49,89.13 L358.68,89.00 L358.87,88.87 L359.06,88.74 L359.24,88.60 L359.42,88.45 L359.60,88.30 L359.78,88.13 L359.95,87.95 L360.13,87.77 L360.29,87.58 L360.46,87.39 L360.61,87.19 L360.76,87.00 L360.90,86.80 L361.02,86.62 L361.12,86.44 L361.21,86.26 L361.30,86.07 L361.39,85.89 L361.49,85.70 L361.59,85.50 L361.70,85.30 L361.86,85.03 L362.03,84.75 L362.20,84.46 L362.39,84.17 L362.58,83.87 L362.78,83.57 L362.99,83.28 L363.20,83.00 L363.43,82.71 L363.67,82.43 L363.92,82.15 L364.18,81.87 L364.44,81.60 L364.70,81.33 L364.95,81.06 L365.20,80.80 L365.42,80.57 L365.64,80.36 L365.85,80.16 L366.06,79.95 L366.28,79.74 L366.48,79.52 L366.69,79.27 L366.90,79.00 L367.19,78.57 L367.47,78.08 L367.75,77.56 L368.03,77.00 L368.31,76.43 L368.58,75.85 L368.84,75.28 L369.10,74.71 L369.37,74.14 L369.63,73.55 L369.88,72.97 L370.13,72.38 L370.38,71.78 L370.62,71.18 L370.85,70.58 L371.08,69.97 L371.31,69.35 L371.53,68.72 L371.74,68.09 L371.95,67.46 L372.15,66.82 L372.36,66.18 L372.57,65.52 L372.79,64.85 L373.03,64.09 L373.27,63.33 L373.51,62.55 L373.75,61.77 L374.00,60.96 L374.26,60.14 L374.53,59.30 L374.82,58.43 L375.20,57.32 L375.61,56.17 L376.04,54.98 L376.49,53.77 L376.95,52.53 L377.41,51.27 L377.88,49.99 L378.34,48.69 L378.89,47.15 L379.46,45.51 L380.05,43.82 L380.65,42.12 L381.23,40.44 L381.79,38.84 L382.32,37.34 L382.80,36.00 L383.08,35.22 L383.34,34.49 L383.58,33.81 L383.81,33.16 L384.05,32.52 L384.28,31.90 L384.53,31.26 L384.80,30.60 L385.10,29.90 L385.40,29.20 L385.72,28.50 L386.04,27.80 L386.37,27.10 L386.71,26.40 L387.05,25.70 L387.40,25.00 L387.77,24.27 L388.16,23.52 L388.57,22.77 L388.97,22.02 L389.38,21.29 L389.77,20.58 L390.15,19.91 L390.50,19.30 L390.73,18.90 L390.94,18.52 L391.15,18.17 L391.35,17.83 L391.55,17.50 L391.76,17.17 L391.97,16.84 L392.20,16.50 L392.45,16.13 L392.71,15.75 L392.98,15.37 L393.26,14.99 L393.54,14.63 L393.82,14.29 L394.11,13.97 L394.40,13.70 L394.63,13.51 L394.86,13.33 L395.09,13.16 L395.32,13.01 L395.56,12.88 L395.80,12.77 L396.05,12.67 L396.30,12.60 L396.56,12.55 L396.83,12.53 L397.10,12.52 L397.38,12.54 L397.66,12.57 L397.94,12.61 L398.22,12.65 L398.50,12.70 L398.79,12.75 L399.07,12.81 L399.36,12.87 L399.65,12.94 L399.94,13.03 L400.23,13.13 L400.51,13.25 L400.80,13.40 L401.17,13.62 L401.54,13.88 L401.92,14.17 L402.30,14.49 L402.67,14.83 L403.03,15.18 L403.37,15.54 L403.70,15.90 L404.01,16.28 L404.31,16.68 L404.59,17.10 L404.85,17.53 L405.11,17.96 L405.37,18.41 L405.63,18.85 L405.90,19.30 L406.19,19.78 L406.48,20.27 L406.77,20.77 L407.06,21.27 L407.34,21.77 L407.63,22.28 L407.91,22.79 L408.20,23.30 L408.49,23.82 L408.78,24.34 L409.07,24.86 L409.36,25.39 L409.65,25.91 L409.93,26.44 L410.22,26.97 L410.50,27.50 L410.78,28.04 L411.06,28.57 L411.34,29.12 L411.61,29.66 L411.89,30.20 L412.16,30.74 L412.43,31.27 L412.70,31.80 L412.95,32.27 L413.19,32.71 L413.42,33.14 L413.65,33.56 L413.89,34.01 L414.14,34.51 L414.41,35.06 L414.70,35.70 L415.42,37.42 L416.25,39.52 L417.15,41.92 L418.11,44.53 L419.10,47.26 L420.10,50.03 L421.10,52.76 L422.06,55.36 L423.04,57.95 L424.02,60.56 L425.01,63.17 L426.01,65.80 L427.00,68.44 L428.01,71.10 L429.01,73.77 L430.01,76.47 L431.07,79.33 L432.13,82.23 L433.20,85.15 L434.27,88.09 L435.34,91.04 L436.41,93.96 L437.47,96.87 L438.54,99.73 L439.55,102.47 L440.57,105.23 L441.58,107.98 L442.59,110.71 L443.60,113.40 L444.61,116.03 L445.62,118.58 L446.64,121.04 L447.49,123.05 L448.34,125.01 L449.19,126.91 L450.04,128.77 L450.89,130.60 L451.75,132.38 L452.61,134.14 L453.49,135.88 L454.30,137.43 L455.12,138.94 L455.94,140.42 L456.77,141.88 L457.61,143.32 L458.45,144.75 L459.29,146.18 L460.13,147.62 L460.96,149.03 L461.79,150.44 L462.63,151.85 L463.46,153.25 L464.31,154.64 L465.15,156.02 L465.99,157.38 L466.83,158.72 L467.63,159.98 L468.43,161.24 L469.23,162.49 L470.03,163.73 L470.83,164.95 L471.63,166.14 L472.44,167.30 L473.25,168.41 L473.97,169.37 L474.69,170.30 L475.41,171.20 L476.14,172.08 L476.86,172.94 L477.59,173.80 L478.31,174.64 L479.04,175.47 L479.72,176.25 L480.40,177.01 L481.08,177.76 L481.76,178.50 L482.44,179.24 L483.11,179.96 L483.79,180.69 L484.46,181.41 L485.10,182.10 L485.73,182.78 L486.36,183.46 L486.99,184.13 L487.62,184.80 L488.26,185.47 L488.89,186.13 L489.53,186.79 L490.17,187.44 L490.81,188.08 L491.44,188.71 L492.08,189.35 L492.73,189.98 L493.38,190.62 L494.06,191.27 L494.76,191.93 L495.57,192.71 L496.42,193.50 L497.29,194.31 L498.17,195.13 L499.07,195.94 L499.97,196.75 L500.86,197.56 L501.76,198.34 L502.64,199.12 L503.53,199.89 L504.43,200.67 L505.33,201.44 L506.22,202.20 L507.12,202.93 L508.01,203.63 L508.89,204.30 L509.67,204.86 L510.44,205.41 L511.21,205.94 L511.98,206.45 L512.74,206.93 L513.51,207.40 L514.29,207.85 L515.07,208.28 L515.82,208.67 L516.57,209.04 L517.32,209.39 L518.07,209.72 L518.83,210.04 L519.60,210.34 L520.37,210.64 L521.15,210.94 L521.94,211.23 L522.73,211.52 L523.53,211.79 L524.34,212.06 L525.15,212.32 L525.98,212.56 L526.81,212.80 L527.65,213.02 L528.56,213.25 L529.47,213.46 L530.39,213.66 L531.32,213.84 L532.26,214.02 L533.23,214.19 L534.22,214.35 L535.24,214.50 L536.49,214.66 L537.80,214.81 L539.13,214.93 L540.50,215.05 L541.88,215.16 L543.27,215.27 L544.64,215.38 L546.00,215.50" stroke="#800000" stroke-opacity="0.59"/>
</g>
<rect x="46.40" y="273.50" width="222.80" height="222.90" fill="none" stroke="#7c7c7c" stroke-width="1.35"/>
<line x1="52.63" y1="495.60" x2="52.63" y2="494.20" stroke="#5a5a5a" stroke-width="1.00"/>
<line x1="59.20" y1="495.60" x2="59.20" y2="493.00" stroke="#5a5a5a" stroke-width="1.00"/>
<line x1="59.20" y1="274.30" x2="59.20" y2="276.50" stroke="#5a5a5a" stroke-width="1.00"/>
<text x="59.20" y="510.30" font-size="13.30" text-anchor="middle" font-weight="normal">20</text>
<line x1="65.77" y1="495.60" x2="65.77" y2="494.20" stroke="#5a5a5a" stroke-width="1.00"/>
<line x1="72.34" y1="495.60" x2="72.34" y2="494.20" stroke="#5a5a5a" stroke-width="1.00"/>
<line x1="78.91" y1="495.60" x2="78.91" y2="494.20" stroke="#5a5a5a" stroke-width="1.00"/>
<line x1="85.48" y1="495.60" x2="85.48" y2="494.20" stroke="#5a5a5a" stroke-width="1.00"/>
<line x1="92.05" y1="495.60" x2="92.05" y2="494.20" stroke="#5a5a5a" stroke-width="1.00"/>
<line x1="98.62" y1="495.60" x2="98.62" y2="494.20" stroke="#5a5a5a" stroke-width="1.00"/>
<line x1="105.19" y1="495.60" x2="105.19" y2="494.20" stroke="#5a5a5a" stroke-width="1.00"/>
<line x1="111.76" y1="495.60" x2="111.76" y2="494.20" stroke="#5a5a5a" stroke-width="1.00"/>
<line x1="118.33" y1="495.60" x2="118.33" y2="494.20" stroke="#5a5a5a" stroke-width="1.00"/>
<line x1="124.90" y1="495.60" x2="124.90" y2="493.00" stroke="#5a5a5a" stroke-width="1.00"/>
<line x1="124.90" y1="274.30" x2="124.90" y2="276.50" stroke="#5a5a5a" stroke-width="1.00"/>
<text x="124.90" y="510.30" font-size="13.30" text-anchor="middle" font-weight="normal">30</text>
<line x1="131.47" y1="495.60" x2="131.47" y2="494.20" stroke="#5a5a5a" stroke-width="1.00"/>
<line x1="138.04" y1="495.60" x2="138.04" y2="494.20" stroke="#5a5a5a" stroke-width="1.00"/>
<line x1="144.61" y1="495.60" x2="144.61" y2="494.20" stroke="#5a5a5a" stroke-width="1.00"/>
<line x1="151.18" y1="495.60" x2="151.18" y2="494.20" stroke="#5a5a5a" stroke-width="1.00"/>
<line x1="157.75" y1="495.60" x2="157.75" y2="494.20" stroke="#5a5a5a" stroke-width="1.00"/>
<line x1="164.32" y1="495.60" x2="164.32" y2="494.20" stroke="#5a5a5a" stroke-width="1.00"/>
<line x1="170.89" y1="495.60" x2="170.89" y2="494.20" stroke="#5a5a5a" stroke-width="1.00"/>
<line x1="177.46" y1="495.60" x2="177.46" y2="494.20" stroke="#5a5a5a" stroke-width="1.00"/>
<line x1="184.03" y1="495.60" x2="184.03" y2="494.20" stroke="#5a5a5a" stroke-width="1.00"/>
<line x1="190.60" y1="495.60" x2="190.60" y2="493.00" stroke="#5a5a5a" stroke-width="1.00"/>
<line x1="190.60" y1="274.30" x2="190.60" y2="276.50" stroke="#5a5a5a" stroke-width="1.00"/>
<text x="190.60" y="510.30" font-size="13.30" text-anchor="middle" font-weight="normal">40</text>
<line x1="197.17" y1="495.60" x2="197.17" y2="494.20" stroke="#5a5a5a" stroke-width="1.00"/>
<line x1="203.74" y1="495.60" x2="203.74" y2="494.20" stroke="#5a5a5a" stroke-width="1.00"/>
<line x1="210.31" y1="495.60" x2="210.31" y2="494.20" stroke="#5a5a5a" stroke-width="1.00"/>
<line x1="216.88" y1="495.60" x2="216.88" y2="494.20" stroke="#5a5a5a" stroke-width="1.00"/>
<line x1="223.45" y1="495.60" x2="223.45" y2="494.20" stroke="#5a5a5a" stroke-width="1.00"/>
<line x1="230.02" y1="495.60" x2="230.02" y2="494.20" stroke="#5a5a5a" stroke-width="1.00"/>
<line x1="236.59" y1="495.60" x2="236.59" y2="494.20" stroke="#5a5a5a" stroke-width="1.00"/>
<line x1="243.16" y1="495.60" x2="243.16" y2="494.20" stroke="#5a5a5a" stroke-width="1.00"/>
<line x1="249.73" y1="495.60" x2="249.73" y2="494.20" stroke="#5a5a5a" stroke-width="1.00"/>
<line x1="256.30" y1="495.60" x2="256.30" y2="493.00" stroke="#5a5a5a" stroke-width="1.00"/>
<line x1="256.30" y1="274.30" x2="256.30" y2="276.50" stroke="#5a5a5a" stroke-width="1.00"/>
<text x="256.30" y="510.30" font-size="13.30" text-anchor="middle" font-weight="normal">50</text>
<line x1="262.87" y1="495.60" x2="262.87" y2="494.20" stroke="#5a5a5a" stroke-width="1.00"/>
<line x1="269.44" y1="495.60" x2="269.44" y2="494.20" stroke="#5a5a5a" stroke-width="1.00"/>
<line x1="47.20" y1="496.60" x2="50.00" y2="496.60" stroke="#5a5a5a" stroke-width="1.00"/>
<text x="42.60" y="500.60" font-size="13.30" text-anchor="end" font-weight="normal">390</text>
<line x1="47.20" y1="481.02" x2="48.80" y2="481.02" stroke="#5a5a5a" stroke-width="1.00"/>
<line x1="47.20" y1="465.43" x2="50.00" y2="465.43" stroke="#5a5a5a" stroke-width="1.00"/>
<text x="42.60" y="469.43" font-size="13.30" text-anchor="end" font-weight="normal">420</text>
<line x1="47.20" y1="449.85" x2="48.80" y2="449.85" stroke="#5a5a5a" stroke-width="1.00"/>
<line x1="47.20" y1="434.26" x2="50.00" y2="434.26" stroke="#5a5a5a" stroke-width="1.00"/>
<text x="42.60" y="438.26" font-size="13.30" text-anchor="end" font-weight="normal">450</text>
<line x1="47.20" y1="418.68" x2="48.80" y2="418.68" stroke="#5a5a5a" stroke-width="1.00"/>
<line x1="47.20" y1="403.09" x2="50.00" y2="403.09" stroke="#5a5a5a" stroke-width="1.00"/>
<text x="42.60" y="407.09" font-size="13.30" text-anchor="end" font-weight="normal">480</text>
<line x1="47.20" y1="387.50" x2="48.80" y2="387.50" stroke="#5a5a5a" stroke-width="1.00"/>
<line x1="47.20" y1="371.92" x2="50.00" y2="371.92" stroke="#5a5a5a" stroke-width="1.00"/>
<text x="42.60" y="375.92" font-size="13.30" text-anchor="end" font-weight="normal">510</text>
<line x1="47.20" y1="356.34" x2="48.80" y2="356.34" stroke="#5a5a5a" stroke-width="1.00"/>
<line x1="47.20" y1="340.75" x2="50.00" y2="340.75" stroke="#5a5a5a" stroke-width="1.00"/>
<text x="42.60" y="344.75" font-size="13.30" text-anchor="end" font-weight="normal">540</text>
<line x1="47.20" y1="325.17" x2="48.80" y2="325.17" stroke="#5a5a5a" stroke-width="1.00"/>
<line x1="47.20" y1="309.58" x2="50.00" y2="309.58" stroke="#5a5a5a" stroke-width="1.00"/>
<text x="42.60" y="313.58" font-size="13.30" text-anchor="end" font-weight="normal">570</text>
<line x1="47.20" y1="294.00" x2="48.80" y2="294.00" stroke="#5a5a5a" stroke-width="1.00"/>
<line x1="47.20" y1="278.41" x2="50.00" y2="278.41" stroke="#5a5a5a" stroke-width="1.00"/>
<text x="42.60" y="282.41" font-size="13.30" text-anchor="end" font-weight="normal">600</text>
<line x1="268.40" y1="494.00" x2="265.60" y2="494.00" stroke="#5a5a5a" stroke-width="1.00"/>
<text x="273.00" y="498.00" font-size="13.30" text-anchor="start" font-weight="normal">50</text>
<line x1="268.40" y1="480.52" x2="266.80" y2="480.52" stroke="#5a5a5a" stroke-width="1.00"/>
<line x1="268.40" y1="467.05" x2="265.60" y2="467.05" stroke="#5a5a5a" stroke-width="1.00"/>
<text x="273.00" y="471.05" font-size="13.30" text-anchor="start" font-weight="normal">100</text>
<line x1="268.40" y1="453.57" x2="266.80" y2="453.57" stroke="#5a5a5a" stroke-width="1.00"/>
<line x1="268.40" y1="440.10" x2="265.60" y2="440.10" stroke="#5a5a5a" stroke-width="1.00"/>
<text x="273.00" y="444.10" font-size="13.30" text-anchor="start" font-weight="normal">150</text>
<line x1="268.40" y1="426.62" x2="266.80" y2="426.62" stroke="#5a5a5a" stroke-width="1.00"/>
<line x1="268.40" y1="413.15" x2="265.60" y2="413.15" stroke="#5a5a5a" stroke-width="1.00"/>
<text x="273.00" y="417.15" font-size="13.30" text-anchor="start" font-weight="normal">200</text>
<line x1="268.40" y1="399.68" x2="266.80" y2="399.68" stroke="#5a5a5a" stroke-width="1.00"/>
<line x1="268.40" y1="386.20" x2="265.60" y2="386.20" stroke="#5a5a5a" stroke-width="1.00"/>
<text x="273.00" y="390.20" font-size="13.30" text-anchor="start" font-weight="normal">250</text>
<line x1="268.40" y1="372.73" x2="266.80" y2="372.73" stroke="#5a5a5a" stroke-width="1.00"/>
<line x1="268.40" y1="359.25" x2="265.60" y2="359.25" stroke="#5a5a5a" stroke-width="1.00"/>
<text x="273.00" y="363.25" font-size="13.30" text-anchor="start" font-weight="normal">300</text>
<line x1="268.40" y1="345.77" x2="266.80" y2="345.77" stroke="#5a5a5a" stroke-width="1.00"/>
<line x1="268.40" y1="332.30" x2="265.60" y2="332.30" stroke="#5a5a5a" stroke-width="1.00"/>
<text x="273.00" y="336.30" font-size="13.30" text-anchor="start" font-weight="normal">350</text>
<line x1="268.40" y1="318.82" x2="266.80" y2="318.82" stroke="#5a5a5a" stroke-width="1.00"/>
<line x1="268.40" y1="305.35" x2="265.60" y2="305.35" stroke="#5a5a5a" stroke-width="1.00"/>
<text x="273.00" y="309.35" font-size="13.30" text-anchor="start" font-weight="normal">400</text>
<line x1="268.40" y1="291.88" x2="266.80" y2="291.88" stroke="#5a5a5a" stroke-width="1.00"/>
<line x1="268.40" y1="278.40" x2="265.60" y2="278.40" stroke="#5a5a5a" stroke-width="1.00"/>
<text x="273.00" y="282.40" font-size="13.30" text-anchor="start" font-weight="normal">450</text>
<text x="154.60" y="525.70" font-size="14.60" text-anchor="middle" font-weight="normal">Size (nm)</text>
<text transform="translate(11.9,448.3) rotate(-90)" font-size="14.5">Peak position (nm)</text>
<text transform="translate(312.0,423.2) rotate(-90)" font-size="14.5">FWHM (nm)</text>
<text x="56.30" y="294.20" font-size="15.20" text-anchor="start" font-weight="bold">c)</text>
<circle cx="59.00" cy="348.20" r="4.10" fill="#ff0000"/>
<circle cx="124.70" cy="323.20" r="4.10" fill="#ff0000"/>
<circle cx="190.60" cy="301.30" r="4.10" fill="#ff0000"/>
<circle cx="256.20" cy="283.60" r="4.10" fill="#ff0000"/>
<circle cx="59.00" cy="374.20" r="3.40" fill="none" stroke="#ff0000" stroke-width="1.4"/>
<circle cx="124.70" cy="362.10" r="3.40" fill="none" stroke="#ff0000" stroke-width="1.4"/>
<circle cx="190.60" cy="326.40" r="3.40" fill="none" stroke="#ff0000" stroke-width="1.4"/>
<circle cx="256.20" cy="294.70" r="3.40" fill="none" stroke="#ff0000" stroke-width="1.4"/>
<polygon points="59.00,474.90 60.32,478.08 63.76,478.35 61.14,480.60 61.94,483.95 59.00,482.15 56.06,483.95 56.86,480.60 54.24,478.35 57.68,478.08" fill="#0000ff"/>
<polygon points="124.50,470.80 125.82,473.98 129.26,474.25 126.64,476.50 127.44,479.85 124.50,478.05 121.56,479.85 122.36,476.50 119.74,474.25 123.18,473.98" fill="#0000ff"/>
<polygon points="190.40,462.40 191.72,465.58 195.16,465.85 192.54,468.10 193.34,471.45 190.40,469.65 187.46,471.45 188.26,468.10 185.64,465.85 189.08,465.58" fill="#0000ff"/>
<polygon points="256.20,444.80 257.52,447.98 260.96,448.25 258.34,450.50 259.14,453.85 256.20,452.05 253.26,453.85 254.06,450.50 251.44,448.25 254.88,447.98" fill="#0000ff"/>
<polygon points="59.00,483.30 60.03,485.78 62.71,485.99 60.67,487.74 61.29,490.36 59.00,488.95 56.71,490.36 57.33,487.74 55.29,485.99 57.97,485.78" fill="none" stroke="#0000ff" stroke-width="1.3" stroke-linejoin="round"/>
<polygon points="124.50,487.30 125.53,489.78 128.21,489.99 126.17,491.74 126.79,494.36 124.50,492.95 122.21,494.36 122.83,491.74 120.79,489.99 123.47,489.78" fill="none" stroke="#0000ff" stroke-width="1.3" stroke-linejoin="round"/>
<polygon points="190.40,475.90 191.43,478.38 194.11,478.59 192.07,480.34 192.69,482.96 190.40,481.56 188.11,482.96 188.73,480.34 186.69,478.59 189.37,478.38" fill="none" stroke="#0000ff" stroke-width="1.3" stroke-linejoin="round"/>
<polygon points="256.20,466.30 257.23,468.78 259.91,468.99 257.87,470.74 258.49,473.36 256.20,471.95 253.91,473.36 254.53,470.74 252.49,468.99 255.17,468.78" fill="none" stroke="#0000ff" stroke-width="1.3" stroke-linejoin="round"/>
<circle cx="154.60" cy="363.30" r="3.00" fill="#ff0000"/>
<circle cx="154.60" cy="382.80" r="2.60" fill="none" stroke="#ff0000" stroke-width="1.4"/>
<polygon points="154.70,410.00 155.71,412.42 158.31,412.63 156.33,414.33 156.93,416.87 154.70,415.51 152.47,416.87 153.07,414.33 151.09,412.63 153.69,412.42" fill="#0000ff"/>
<polygon points="154.70,429.30 155.49,431.21 157.55,431.37 155.98,432.72 156.46,434.73 154.70,433.65 152.94,434.73 153.42,432.72 151.85,431.37 153.91,431.21" fill="none" stroke="#0000ff" stroke-width="1.3" stroke-linejoin="round"/>
<text x="167.8" y="366.70" font-size="10.2" style="fill:#5a5a5a;stroke:#5a5a5a;stroke-width:0.1px">&#955;</text>
<text x="177.5" y="372.30" font-size="12.6">extinc.</text>
<text x="217.1" y="367.60" font-size="12">array</text>
<text x="171.40" y="386.50" font-size="12.20" text-anchor="start" font-weight="normal">FWHM of array</text>
<text x="167.8" y="417.10" font-size="10.2" style="fill:#5a5a5a;stroke:#5a5a5a;stroke-width:0.1px">&#955;</text>
<text x="177.5" y="422.70" font-size="12.6">extinc.</text>
<text x="217.1" y="418.00" font-size="12">colloid</text>
<text x="171.40" y="436.00" font-size="12.20" text-anchor="start" font-weight="normal">FWHM of colloid</text>
</svg>
</body></html>
